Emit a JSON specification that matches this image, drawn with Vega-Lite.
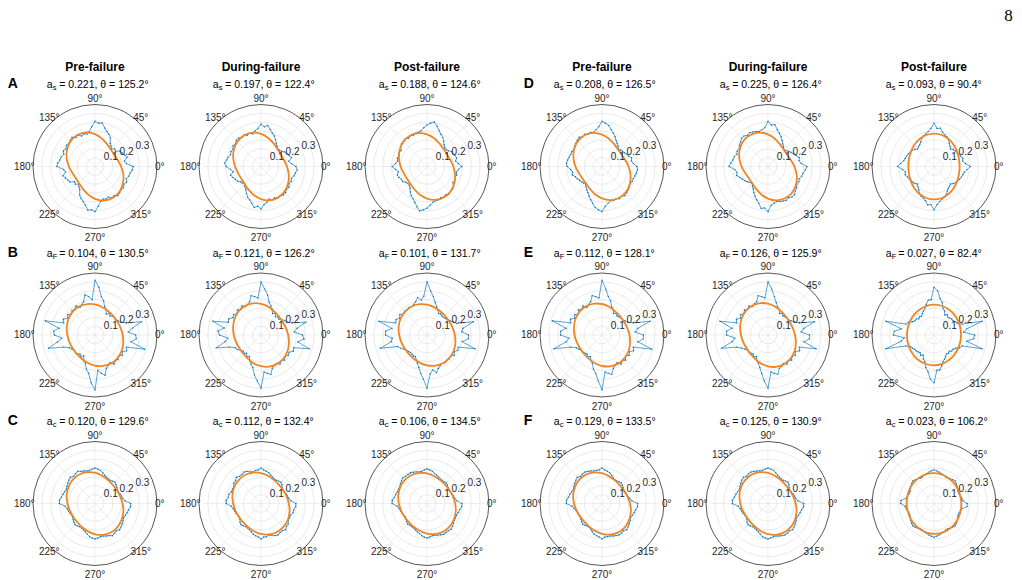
{
"$schema": "https://vega.github.io/schema/vega-lite/v6.json",
"background": "white",
"padding": {"left": 7, "top": 6.5, "right": 0, "bottom": 0},
"config": {"view": {"stroke": null}, "text": {"font": "Liberation Sans", "fontSize": 10, "color": "#262626"}},
"datasets": {
"rings": [{"r":0.05,"k":"g"},{"r":0.1,"k":"g"},{"r":0.15,"k":"g"},{"r":0.2,"k":"g"},{"r":0.25,"k":"g"},{"r":0.3,"k":"g"},{"r":0.35,"k":"e"}],
"spokes": [{"t":0,"rr":[0,0.35]},{"t":45,"rr":[0,0.35]},{"t":90,"rr":[0,0.35]},{"t":135,"rr":[0,0.35]},{"t":180,"rr":[0,0.35]},{"t":225,"rr":[0,0.35]},{"t":270,"rr":[0,0.35]},{"t":315,"rr":[0,0.35]}],
"alab": [{"t":0,"txt":"0°"},{"t":45,"txt":"45°"},{"t":90,"txt":"90°"},{"t":135,"txt":"135°"},{"t":180,"txt":"180°"},{"t":225,"txt":"225°"},{"t":270,"txt":"270°"},{"t":315,"txt":"315°"}],
"rlab": [{"r":0.1,"txt":"0.1"},{"r":0.2,"txt":"0.2"},{"r":0.3,"txt":"0.3"}],
"info": [
{"p":"A1","sub":"s","rest":"= 0.221, θ = 125.2°","ttl":"Pre-failure","let":"A"},
{"p":"A2","sub":"s","rest":"= 0.197, θ = 122.4°","ttl":"During-failure"},
{"p":"A3","sub":"s","rest":"= 0.188, θ = 124.6°","ttl":"Post-failure"},
{"p":"D1","sub":"s","rest":"= 0.208, θ = 126.5°","ttl":"Pre-failure","let":"D"},
{"p":"D2","sub":"s","rest":"= 0.225, θ = 126.4°","ttl":"During-failure"},
{"p":"D3","sub":"s","rest":"= 0.093, θ = 90.4°","ttl":"Post-failure","pg":"8"},
{"p":"B1","sub":"F","rest":"= 0.104, θ = 130.5°","let":"B"},
{"p":"B2","sub":"F","rest":"= 0.121, θ = 126.2°"},
{"p":"B3","sub":"F","rest":"= 0.101, θ = 131.7°"},
{"p":"E1","sub":"F","rest":"= 0.112, θ = 128.1°","let":"E"},
{"p":"E2","sub":"F","rest":"= 0.126, θ = 125.9°"},
{"p":"E3","sub":"F","rest":"= 0.027, θ = 82.4°"},
{"p":"C1","sub":"c","rest":"= 0.120, θ = 129.6°","let":"C"},
{"p":"C2","sub":"c","rest":"= 0.112, θ = 132.4°"},
{"p":"C3","sub":"c","rest":"= 0.106, θ = 134.5°"},
{"p":"F1","sub":"c","rest":"= 0.129, θ = 133.5°","let":"F"},
{"p":"F2","sub":"c","rest":"= 0.125, θ = 130.9°"},
{"p":"F3","sub":"c","rest":"= 0.023, θ = 106.2°"}
],
"cv": [
{"p":"A1","s":"b","t":[0,5,10,15,20,25,30,35,40,45,50,55,60,65,70,75,80,85,90,95,100,105,110,115,120,125,130,135,140,145,150,155,160,165,170,175,180,185,190,195,200,205,210,215,220,225,230,235,240,245,250,255,260,265,270,275,280,285,290,295,300,305,310,315,320,325,330,335,340,345,350,355],"r":[0.23,0.19,0.18,0.2,0.19,0.18,0.175,0.15,0.155,0.14,0.15,0.16,0.185,0.2,0.21,0.225,0.25,0.245,0.255,0.225,0.2,0.19,0.195,0.19,0.205,0.2,0.215,0.21,0.205,0.21,0.2,0.21,0.2,0.21,0.215,0.225,0.23,0.19,0.18,0.2,0.19,0.18,0.175,0.15,0.155,0.14,0.15,0.16,0.185,0.2,0.21,0.225,0.25,0.245,0.255,0.225,0.2,0.19,0.195,0.19,0.205,0.2,0.215,0.21,0.205,0.21,0.2,0.21,0.2,0.21,0.215,0.225]},
{"p":"A1","s":"o","t":[0,15,30,45,60,75,90,105,120,135,150,165,180,195,210,225,240,255,270,285,300,315,330,345],"r":[0.157,0.141,0.133,0.135,0.146,0.163,0.183,0.199,0.207,0.205,0.194,0.177,0.157,0.141,0.133,0.135,0.146,0.163,0.183,0.199,0.207,0.205,0.194,0.177]},
{"p":"A2","s":"b","t":[0,5,10,15,20,25,30,35,40,45,50,55,60,65,70,75,80,85,90,95,100,105,110,115,120,125,130,135,140,145,150,155,160,165,170,175,180,185,190,195,200,205,210,215,220,225,230,235,240,245,250,255,260,265,270,275,280,285,290,295,300,305,310,315,320,325,330,335,340,345,350,355],"r":[0.21,0.185,0.17,0.19,0.18,0.17,0.165,0.15,0.145,0.14,0.15,0.16,0.175,0.19,0.2,0.215,0.235,0.225,0.24,0.215,0.205,0.19,0.2,0.195,0.205,0.2,0.21,0.21,0.2,0.205,0.195,0.2,0.195,0.205,0.21,0.22,0.21,0.185,0.17,0.19,0.18,0.17,0.165,0.15,0.145,0.14,0.15,0.16,0.175,0.19,0.2,0.215,0.235,0.225,0.24,0.215,0.205,0.19,0.2,0.195,0.205,0.2,0.21,0.21,0.2,0.205,0.195,0.2,0.195,0.205,0.21,0.22]},
{"p":"A2","s":"o","t":[0,15,30,45,60,75,90,105,120,135,150,165,180,195,210,225,240,255,270,285,300,315,330,345],"r":[0.156,0.143,0.137,0.14,0.151,0.167,0.184,0.198,0.203,0.2,0.189,0.173,0.156,0.143,0.137,0.14,0.151,0.167,0.184,0.198,0.203,0.2,0.189,0.173]},
{"p":"A3","s":"b","t":[0,5,10,15,20,25,30,35,40,45,50,55,60,65,70,75,80,85,90,95,100,105,110,115,120,125,130,135,140,145,150,155,160,165,170,175,180,185,190,195,200,205,210,215,220,225,230,235,240,245,250,255,260,265,270,275,280,285,290,295,300,305,310,315,320,325,330,335,340,345,350,355],"r":[0.21,0.19,0.175,0.185,0.18,0.17,0.17,0.155,0.15,0.15,0.16,0.175,0.19,0.2,0.215,0.235,0.255,0.245,0.235,0.22,0.205,0.2,0.2,0.195,0.2,0.195,0.205,0.2,0.2,0.195,0.18,0.185,0.18,0.185,0.18,0.19,0.21,0.19,0.175,0.185,0.18,0.17,0.17,0.155,0.15,0.15,0.16,0.175,0.19,0.2,0.215,0.235,0.255,0.245,0.235,0.22,0.205,0.2,0.2,0.195,0.2,0.195,0.205,0.2,0.2,0.195,0.18,0.185,0.18,0.185,0.18,0.19]},
{"p":"A3","s":"o","t":[0,15,30,45,60,75,90,105,120,135,150,165,180,195,210,225,240,255,270,285,300,315,330,345],"r":[0.159,0.145,0.139,0.14,0.15,0.165,0.181,0.195,0.202,0.2,0.19,0.175,0.159,0.145,0.139,0.14,0.15,0.165,0.181,0.195,0.202,0.2,0.19,0.175]},
{"p":"D1","s":"b","t":[0,5,10,15,20,25,30,35,40,45,50,55,60,65,70,75,80,85,90,95,100,105,110,115,120,125,130,135,140,145,150,155,160,165,170,175,180,185,190,195,200,205,210,215,220,225,230,235,240,245,250,255,260,265,270,275,280,285,290,295,300,305,310,315,320,325,330,335,340,345,350,355],"r":[0.21,0.19,0.18,0.185,0.17,0.165,0.155,0.15,0.145,0.14,0.15,0.16,0.17,0.185,0.2,0.215,0.235,0.245,0.255,0.225,0.21,0.2,0.205,0.2,0.21,0.205,0.215,0.21,0.205,0.2,0.195,0.2,0.2,0.205,0.21,0.215,0.21,0.19,0.18,0.185,0.17,0.165,0.155,0.15,0.145,0.14,0.15,0.16,0.17,0.185,0.2,0.215,0.235,0.245,0.255,0.225,0.21,0.2,0.205,0.2,0.21,0.205,0.215,0.21,0.205,0.2,0.195,0.2,0.2,0.205,0.21,0.215]},
{"p":"D1","s":"o","t":[0,15,30,45,60,75,90,105,120,135,150,165,180,195,210,225,240,255,270,285,300,315,330,345],"r":[0.16,0.144,0.136,0.136,0.146,0.162,0.18,0.196,0.205,0.204,0.194,0.178,0.16,0.144,0.136,0.136,0.146,0.162,0.18,0.196,0.205,0.204,0.194,0.178]},
{"p":"D2","s":"b","t":[0,5,10,15,20,25,30,35,40,45,50,55,60,65,70,75,80,85,90,95,100,105,110,115,120,125,130,135,140,145,150,155,160,165,170,175,180,185,190,195,200,205,210,215,220,225,230,235,240,245,250,255,260,265,270,275,280,285,290,295,300,305,310,315,320,325,330,335,340,345,350,355],"r":[0.235,0.2,0.19,0.195,0.18,0.17,0.16,0.15,0.14,0.135,0.145,0.155,0.17,0.185,0.2,0.215,0.24,0.235,0.255,0.22,0.21,0.205,0.21,0.215,0.22,0.215,0.225,0.225,0.215,0.21,0.2,0.205,0.2,0.21,0.215,0.225,0.235,0.2,0.19,0.195,0.18,0.17,0.16,0.15,0.14,0.135,0.145,0.155,0.17,0.185,0.2,0.215,0.24,0.235,0.255,0.22,0.21,0.205,0.21,0.215,0.22,0.215,0.225,0.225,0.215,0.21,0.2,0.205,0.2,0.21,0.215,0.225]},
{"p":"D2","s":"o","t":[0,15,30,45,60,75,90,105,120,135,150,165,180,195,210,225,240,255,270,285,300,315,330,345],"r":[0.159,0.142,0.133,0.134,0.144,0.162,0.181,0.198,0.207,0.207,0.196,0.179,0.159,0.142,0.133,0.134,0.144,0.162,0.181,0.198,0.207,0.207,0.196,0.179]},
{"p":"D3","s":"b","t":[0,5,10,15,20,25,30,35,40,45,50,55,60,65,70,75,80,85,90,95,100,105,110,115,120,125,130,135,140,145,150,155,160,165,170,175,180,185,190,195,200,205,210,215,220,225,230,235,240,245,250,255,260,265,270,275,280,285,290,295,300,305,310,315,320,325,330,335,340,345,350,355],"r":[0.22,0.19,0.175,0.18,0.17,0.165,0.16,0.155,0.15,0.14,0.15,0.16,0.175,0.185,0.19,0.2,0.22,0.215,0.245,0.215,0.2,0.19,0.185,0.175,0.16,0.15,0.145,0.14,0.15,0.16,0.165,0.17,0.175,0.18,0.185,0.2,0.22,0.19,0.175,0.18,0.17,0.165,0.16,0.155,0.15,0.14,0.15,0.16,0.175,0.185,0.19,0.2,0.22,0.215,0.245,0.215,0.2,0.19,0.185,0.175,0.16,0.15,0.145,0.14,0.15,0.16,0.165,0.17,0.175,0.18,0.185,0.2]},
{"p":"D3","s":"o","t":[0,15,30,45,60,75,90,105,120,135,150,165,180,195,210,225,240,255,270,285,300,315,330,345],"r":[0.154,0.156,0.162,0.17,0.178,0.184,0.186,0.184,0.178,0.17,0.162,0.156,0.154,0.156,0.162,0.17,0.178,0.184,0.186,0.184,0.178,0.17,0.162,0.156]},
{"p":"B1","s":"b","t":[0,5,10,15,20,25,30,35,40,45,50,55,60,65,70,75,80,85,90,95,100,105,110,115,120,125,130,135,140,145,150,155,160,165,170,175,180,185,190,195,200,205,210,215,220,225,230,235,240,245,250,255,260,265,270,275,280,285,290,295,300,305,310,315,320,325,330,335,340,345,350,355],"r":[0.245,0.2,0.23,0.29,0.2,0.17,0.16,0.15,0.155,0.15,0.14,0.15,0.135,0.16,0.17,0.2,0.22,0.27,0.31,0.2,0.22,0.235,0.2,0.19,0.18,0.2,0.19,0.195,0.185,0.2,0.19,0.21,0.2,0.31,0.22,0.25,0.245,0.2,0.23,0.29,0.2,0.17,0.16,0.15,0.155,0.15,0.14,0.15,0.135,0.16,0.17,0.2,0.22,0.27,0.31,0.2,0.22,0.235,0.2,0.19,0.18,0.2,0.19,0.195,0.185,0.2,0.19,0.21,0.2,0.31,0.22,0.25]},
{"p":"B1","s":"o","t":[0,15,30,45,60,75,90,105,120,135,150,165,180,195,210,225,240,255,270,285,300,315,330,345],"r":[0.167,0.159,0.154,0.153,0.156,0.164,0.173,0.181,0.187,0.188,0.184,0.176,0.167,0.159,0.154,0.153,0.156,0.164,0.173,0.181,0.187,0.188,0.184,0.176]},
{"p":"B2","s":"b","t":[0,5,10,15,20,25,30,35,40,45,50,55,60,65,70,75,80,85,90,95,100,105,110,115,120,125,130,135,140,145,150,155,160,165,170,175,180,185,190,195,200,205,210,215,220,225,230,235,240,245,250,255,260,265,270,275,280,285,290,295,300,305,310,315,320,325,330,335,340,345,350,355],"r":[0.25,0.2,0.22,0.28,0.2,0.17,0.165,0.15,0.14,0.145,0.135,0.15,0.14,0.16,0.175,0.19,0.23,0.26,0.3,0.21,0.22,0.23,0.2,0.19,0.185,0.2,0.19,0.2,0.19,0.2,0.195,0.215,0.21,0.3,0.225,0.26,0.25,0.2,0.22,0.28,0.2,0.17,0.165,0.15,0.14,0.145,0.135,0.15,0.14,0.16,0.175,0.19,0.23,0.26,0.3,0.21,0.22,0.23,0.2,0.19,0.185,0.2,0.19,0.2,0.19,0.2,0.195,0.215,0.21,0.3,0.225,0.26]},
{"p":"B2","s":"o","t":[0,15,30,45,60,75,90,105,120,135,150,165,180,195,210,225,240,255,270,285,300,315,330,345],"r":[0.164,0.155,0.15,0.15,0.156,0.166,0.176,0.185,0.19,0.19,0.184,0.174,0.164,0.155,0.15,0.15,0.156,0.166,0.176,0.185,0.19,0.19,0.184,0.174]},
{"p":"B3","s":"b","t":[0,5,10,15,20,25,30,35,40,45,50,55,60,65,70,75,80,85,90,95,100,105,110,115,120,125,130,135,140,145,150,155,160,165,170,175,180,185,190,195,200,205,210,215,220,225,230,235,240,245,250,255,260,265,270,275,280,285,290,295,300,305,310,315,320,325,330,335,340,345,350,355],"r":[0.25,0.21,0.22,0.29,0.19,0.175,0.16,0.15,0.145,0.14,0.14,0.145,0.14,0.155,0.17,0.19,0.22,0.25,0.3,0.22,0.2,0.22,0.2,0.19,0.185,0.19,0.185,0.19,0.185,0.2,0.19,0.205,0.2,0.3,0.215,0.25,0.25,0.21,0.22,0.29,0.19,0.175,0.16,0.15,0.145,0.14,0.14,0.145,0.14,0.155,0.17,0.19,0.22,0.25,0.3,0.22,0.2,0.22,0.2,0.19,0.185,0.19,0.185,0.19,0.185,0.2,0.19,0.205,0.2,0.3,0.215,0.25]},
{"p":"B3","s":"o","t":[0,15,30,45,60,75,90,105,120,135,150,165,180,195,210,225,240,255,270,285,300,315,330,345],"r":[0.168,0.16,0.154,0.153,0.156,0.163,0.172,0.18,0.186,0.187,0.184,0.177,0.168,0.16,0.154,0.153,0.156,0.163,0.172,0.18,0.186,0.187,0.184,0.177]},
{"p":"E1","s":"b","t":[0,5,10,15,20,25,30,35,40,45,50,55,60,65,70,75,80,85,90,95,100,105,110,115,120,125,130,135,140,145,150,155,160,165,170,175,180,185,190,195,200,205,210,215,220,225,230,235,240,245,250,255,260,265,270,275,280,285,290,295,300,305,310,315,320,325,330,335,340,345,350,355],"r":[0.25,0.2,0.22,0.3,0.2,0.17,0.16,0.15,0.15,0.145,0.14,0.15,0.14,0.16,0.17,0.2,0.22,0.26,0.31,0.21,0.22,0.23,0.2,0.19,0.18,0.2,0.19,0.2,0.185,0.2,0.19,0.21,0.2,0.31,0.22,0.25,0.25,0.2,0.22,0.3,0.2,0.17,0.16,0.15,0.15,0.145,0.14,0.15,0.14,0.16,0.17,0.2,0.22,0.26,0.31,0.21,0.22,0.23,0.2,0.19,0.18,0.2,0.19,0.2,0.185,0.2,0.19,0.21,0.2,0.31,0.22,0.25]},
{"p":"E1","s":"o","t":[0,15,30,45,60,75,90,105,120,135,150,165,180,195,210,225,240,255,270,285,300,315,330,345],"r":[0.166,0.157,0.152,0.152,0.156,0.165,0.175,0.183,0.188,0.189,0.184,0.175,0.166,0.157,0.152,0.152,0.156,0.165,0.175,0.183,0.188,0.189,0.184,0.175]},
{"p":"E2","s":"b","t":[0,5,10,15,20,25,30,35,40,45,50,55,60,65,70,75,80,85,90,95,100,105,110,115,120,125,130,135,140,145,150,155,160,165,170,175,180,185,190,195,200,205,210,215,220,225,230,235,240,245,250,255,260,265,270,275,280,285,290,295,300,305,310,315,320,325,330,335,340,345,350,355],"r":[0.25,0.2,0.22,0.29,0.2,0.175,0.16,0.15,0.15,0.145,0.14,0.15,0.14,0.16,0.17,0.19,0.22,0.26,0.3,0.21,0.22,0.23,0.2,0.195,0.185,0.2,0.19,0.2,0.19,0.2,0.19,0.21,0.2,0.3,0.22,0.25,0.25,0.2,0.22,0.29,0.2,0.175,0.16,0.15,0.15,0.145,0.14,0.15,0.14,0.16,0.17,0.19,0.22,0.26,0.3,0.21,0.22,0.23,0.2,0.195,0.185,0.2,0.19,0.2,0.19,0.2,0.19,0.21,0.2,0.3,0.22,0.25]},
{"p":"E2","s":"o","t":[0,15,30,45,60,75,90,105,120,135,150,165,180,195,210,225,240,255,270,285,300,315,330,345],"r":[0.163,0.154,0.149,0.15,0.156,0.166,0.177,0.186,0.191,0.19,0.184,0.174,0.163,0.154,0.149,0.15,0.156,0.166,0.177,0.186,0.191,0.19,0.184,0.174]},
{"p":"E3","s":"b","t":[0,5,10,15,20,25,30,35,40,45,50,55,60,65,70,75,80,85,90,95,100,105,110,115,120,125,130,135,140,145,150,155,160,165,170,175,180,185,190,195,200,205,210,215,220,225,230,235,240,245,250,255,260,265,270,275,280,285,290,295,300,305,310,315,320,325,330,335,340,345,350,355],"r":[0.245,0.18,0.2,0.3,0.18,0.155,0.15,0.14,0.14,0.135,0.13,0.14,0.13,0.15,0.16,0.19,0.21,0.25,0.27,0.2,0.2,0.18,0.16,0.15,0.14,0.13,0.135,0.13,0.14,0.14,0.15,0.17,0.18,0.3,0.2,0.24,0.245,0.18,0.2,0.3,0.18,0.155,0.15,0.14,0.14,0.135,0.13,0.14,0.13,0.15,0.16,0.19,0.21,0.25,0.27,0.2,0.2,0.18,0.16,0.15,0.14,0.13,0.135,0.13,0.14,0.14,0.15,0.17,0.18,0.3,0.2,0.24]},
{"p":"E3","s":"o","t":[0,15,30,45,60,75,90,105,120,135,150,165,180,195,210,225,240,255,270,285,300,315,330,345],"r":[0.163,0.164,0.166,0.168,0.17,0.171,0.171,0.17,0.168,0.166,0.164,0.163,0.163,0.164,0.166,0.168,0.17,0.171,0.171,0.17,0.168,0.166,0.164,0.163]},
{"p":"C1","s":"b","t":[0,5,10,15,20,25,30,35,40,45,50,55,60,65,70,75,80,85,90,95,100,105,110,115,120,125,130,135,140,145,150,155,160,165,170,175,180,185,190,195,200,205,210,215,220,225,230,235,240,245,250,255,260,265,270,275,280,285,290,295,300,305,310,315,320,325,330,335,340,345,350,355],"r":[0.215,0.18,0.17,0.165,0.16,0.155,0.155,0.16,0.165,0.17,0.165,0.16,0.16,0.165,0.17,0.18,0.19,0.195,0.2,0.195,0.19,0.19,0.195,0.2,0.21,0.205,0.2,0.21,0.205,0.2,0.195,0.19,0.195,0.2,0.205,0.215,0.215,0.18,0.17,0.165,0.16,0.155,0.155,0.16,0.165,0.17,0.165,0.16,0.16,0.165,0.17,0.18,0.19,0.195,0.2,0.195,0.19,0.19,0.195,0.2,0.21,0.205,0.2,0.21,0.205,0.2,0.195,0.19,0.195,0.2,0.205,0.215]},
{"p":"C1","s":"o","t":[0,15,30,45,60,75,90,105,120,135,150,165,180,195,210,225,240,255,270,285,300,315,330,345],"r":[0.166,0.157,0.151,0.15,0.155,0.163,0.174,0.183,0.189,0.19,0.185,0.177,0.166,0.157,0.151,0.15,0.155,0.163,0.174,0.183,0.189,0.19,0.185,0.177]},
{"p":"C2","s":"b","t":[0,5,10,15,20,25,30,35,40,45,50,55,60,65,70,75,80,85,90,95,100,105,110,115,120,125,130,135,140,145,150,155,160,165,170,175,180,185,190,195,200,205,210,215,220,225,230,235,240,245,250,255,260,265,270,275,280,285,290,295,300,305,310,315,320,325,330,335,340,345,350,355],"r":[0.21,0.18,0.17,0.165,0.16,0.155,0.15,0.155,0.165,0.17,0.165,0.16,0.16,0.165,0.17,0.18,0.185,0.19,0.2,0.19,0.19,0.185,0.19,0.2,0.205,0.2,0.2,0.21,0.2,0.2,0.19,0.19,0.19,0.2,0.2,0.21,0.21,0.18,0.17,0.165,0.16,0.155,0.15,0.155,0.165,0.17,0.165,0.16,0.16,0.165,0.17,0.18,0.185,0.19,0.2,0.19,0.19,0.185,0.19,0.2,0.205,0.2,0.2,0.21,0.2,0.2,0.19,0.19,0.19,0.2,0.2,0.21]},
{"p":"C2","s":"o","t":[0,15,30,45,60,75,90,105,120,135,150,165,180,195,210,225,240,255,270,285,300,315,330,345],"r":[0.168,0.159,0.153,0.151,0.154,0.162,0.172,0.181,0.187,0.189,0.186,0.178,0.168,0.159,0.153,0.151,0.154,0.162,0.172,0.181,0.187,0.189,0.186,0.178]},
{"p":"C3","s":"b","t":[0,5,10,15,20,25,30,35,40,45,50,55,60,65,70,75,80,85,90,95,100,105,110,115,120,125,130,135,140,145,150,155,160,165,170,175,180,185,190,195,200,205,210,215,220,225,230,235,240,245,250,255,260,265,270,275,280,285,290,295,300,305,310,315,320,325,330,335,340,345,350,355],"r":[0.21,0.18,0.17,0.165,0.16,0.155,0.15,0.155,0.16,0.165,0.16,0.16,0.16,0.165,0.17,0.175,0.185,0.19,0.195,0.19,0.185,0.185,0.19,0.195,0.2,0.2,0.2,0.205,0.2,0.195,0.19,0.19,0.19,0.195,0.2,0.21,0.21,0.18,0.17,0.165,0.16,0.155,0.15,0.155,0.16,0.165,0.16,0.16,0.16,0.165,0.17,0.175,0.185,0.19,0.195,0.19,0.185,0.185,0.19,0.195,0.2,0.2,0.2,0.205,0.2,0.195,0.19,0.19,0.19,0.195,0.2,0.21]},
{"p":"C3","s":"o","t":[0,15,30,45,60,75,90,105,120,135,150,165,180,195,210,225,240,255,270,285,300,315,330,345],"r":[0.17,0.161,0.154,0.152,0.155,0.161,0.17,0.179,0.186,0.188,0.186,0.179,0.17,0.161,0.154,0.152,0.155,0.161,0.17,0.179,0.186,0.188,0.186,0.179]},
{"p":"F1","s":"b","t":[0,5,10,15,20,25,30,35,40,45,50,55,60,65,70,75,80,85,90,95,100,105,110,115,120,125,130,135,140,145,150,155,160,165,170,175,180,185,190,195,200,205,210,215,220,225,230,235,240,245,250,255,260,265,270,275,280,285,290,295,300,305,310,315,320,325,330,335,340,345,350,355],"r":[0.215,0.18,0.17,0.16,0.155,0.15,0.15,0.155,0.16,0.165,0.16,0.155,0.155,0.16,0.17,0.18,0.185,0.19,0.2,0.19,0.19,0.19,0.195,0.2,0.205,0.205,0.2,0.21,0.205,0.2,0.195,0.19,0.195,0.2,0.205,0.215,0.215,0.18,0.17,0.16,0.155,0.15,0.15,0.155,0.16,0.165,0.16,0.155,0.155,0.16,0.17,0.18,0.185,0.19,0.2,0.19,0.19,0.19,0.195,0.2,0.205,0.205,0.2,0.21,0.205,0.2,0.195,0.19,0.195,0.2,0.205,0.215]},
{"p":"F1","s":"o","t":[0,15,30,45,60,75,90,105,120,135,150,165,180,195,210,225,240,255,270,285,300,315,330,345],"r":[0.169,0.158,0.151,0.148,0.152,0.16,0.171,0.182,0.19,0.192,0.188,0.18,0.169,0.158,0.151,0.148,0.152,0.16,0.171,0.182,0.19,0.192,0.188,0.18]},
{"p":"F2","s":"b","t":[0,5,10,15,20,25,30,35,40,45,50,55,60,65,70,75,80,85,90,95,100,105,110,115,120,125,130,135,140,145,150,155,160,165,170,175,180,185,190,195,200,205,210,215,220,225,230,235,240,245,250,255,260,265,270,275,280,285,290,295,300,305,310,315,320,325,330,335,340,345,350,355],"r":[0.215,0.18,0.17,0.165,0.16,0.155,0.15,0.155,0.165,0.17,0.165,0.16,0.16,0.165,0.17,0.18,0.19,0.195,0.2,0.195,0.19,0.19,0.195,0.2,0.205,0.205,0.2,0.21,0.205,0.2,0.195,0.19,0.195,0.2,0.205,0.215,0.215,0.18,0.17,0.165,0.16,0.155,0.15,0.155,0.165,0.17,0.165,0.16,0.16,0.165,0.17,0.18,0.19,0.195,0.2,0.195,0.19,0.19,0.195,0.2,0.205,0.205,0.2,0.21,0.205,0.2,0.195,0.19,0.195,0.2,0.205,0.215]},
{"p":"F2","s":"o","t":[0,15,30,45,60,75,90,105,120,135,150,165,180,195,210,225,240,255,270,285,300,315,330,345],"r":[0.167,0.157,0.15,0.149,0.153,0.162,0.173,0.183,0.19,0.191,0.187,0.178,0.167,0.157,0.15,0.149,0.153,0.162,0.173,0.183,0.19,0.191,0.187,0.178]},
{"p":"F3","s":"b","t":[0,5,10,15,20,25,30,35,40,45,50,55,60,65,70,75,80,85,90,95,100,105,110,115,120,125,130,135,140,145,150,155,160,165,170,175,180,185,190,195,200,205,210,215,220,225,230,235,240,245,250,255,260,265,270,275,280,285,290,295,300,305,310,315,320,325,330,335,340,345,350,355],"r":[0.2,0.175,0.17,0.165,0.16,0.16,0.165,0.17,0.175,0.18,0.175,0.17,0.165,0.165,0.17,0.175,0.18,0.185,0.19,0.185,0.18,0.175,0.17,0.165,0.165,0.17,0.175,0.18,0.175,0.17,0.165,0.16,0.16,0.165,0.17,0.2,0.2,0.175,0.17,0.165,0.16,0.16,0.165,0.17,0.175,0.18,0.175,0.17,0.165,0.165,0.17,0.175,0.18,0.185,0.19,0.185,0.18,0.175,0.17,0.165,0.165,0.17,0.175,0.18,0.175,0.17,0.165,0.16,0.16,0.165,0.17,0.2]},
{"p":"F3","s":"o","t":[0,15,30,45,60,75,90,105,120,135,150,165,180,195,210,225,240,255,270,285,300,315,330,345],"r":[0.165,0.164,0.165,0.166,0.168,0.17,0.171,0.172,0.171,0.17,0.168,0.166,0.165,0.164,0.165,0.166,0.168,0.17,0.171,0.172,0.171,0.17,0.168,0.166]}
]
},
"columns": 7,
"align": "each",
"bounds": "flush",
"spacing": {"row": 44.5, "column": 0},
"concat": [
{"width":166,"height":124,"layer":[
{"data":{"name":"spokes"},"transform":[{"flatten":["rr"]},{"calculate":"datum.rr*cos(datum.t*PI/180)","as":"x"},{"calculate":"datum.rr*sin(datum.t*PI/180)","as":"y"}],"mark":{"type":"line","color":"#e2e2e2","strokeWidth":0.6},"encoding":{"x":{"field":"x","type":"quantitative","scale":{"domain":[-0.46855,0.46855]},"axis":null},"y":{"field":"y","type":"quantitative","scale":{"domain":[-0.35,0.35]},"axis":null},"detail":{"field":"t","type":"nominal"},"order":{"field":"rr","type":"quantitative"}}},
{"data":{"name":"rings"},"transform":[{"calculate":"0","as":"x"},{"calculate":"0","as":"y"}],"mark":{"type":"point","shape":"circle","filled":false,"opacity":1,"strokeWidth":0.75},"encoding":{"x":{"field":"x","type":"quantitative","axis":null},"y":{"field":"y","type":"quantitative","axis":null},"size":{"field":"r","type":"quantitative","scale":{"type":"pow","exponent":2,"domain":[0,0.35],"range":[0,15376]},"legend":null},"color":{"field":"k","type":"nominal","scale":{"domain":["g","e"],"range":["#e2e2e2","#1f1f1f"]},"legend":null}}},
{"data":{"name":"cv"},"transform":[{"filter":"datum.p=='A1'&&datum.s=='b'"},{"flatten":["t","r"]},{"calculate":"datum.r*cos(datum.t*PI/180)","as":"x"},{"calculate":"datum.r*sin(datum.t*PI/180)","as":"y"}],"mark":{"type":"line","interpolate":"linear-closed","color":"#0072BD","strokeWidth":0.65,"point":{"filled":true,"size":2,"color":"#0072BD"}},"encoding":{"x":{"field":"x","type":"quantitative","axis":null},"y":{"field":"y","type":"quantitative","axis":null},"order":{"field":"t","type":"quantitative"}}},
{"data":{"name":"cv"},"transform":[{"filter":"datum.p=='A1'&&datum.s=='o'"},{"flatten":["t","r"]},{"calculate":"datum.r*cos(datum.t*PI/180)","as":"x"},{"calculate":"datum.r*sin(datum.t*PI/180)","as":"y"}],"mark":{"type":"line","interpolate":"cardinal-closed","color":"#F28522","strokeWidth":1.8},"encoding":{"x":{"field":"x","type":"quantitative","axis":null},"y":{"field":"y","type":"quantitative","axis":null},"order":{"field":"t","type":"quantitative"}}},
{"data":{"name":"alab"},"transform":[{"filter":"datum.t!=180"},{"calculate":"datum.t==90?0.382:(datum.t==270?0.405:0.39)","as":"rl"},{"calculate":"datum.rl*cos(datum.t*PI/180)","as":"x"},{"calculate":"datum.rl*sin(datum.t*PI/180)","as":"y"}],"mark":{"type":"text","baseline":"middle"},"encoding":{"x":{"field":"x","type":"quantitative","axis":null},"y":{"field":"y","type":"quantitative","axis":null},"text":{"field":"txt"}}},
{"data":{"name":"alab"},"transform":[{"filter":"datum.t==180"},{"calculate":"0.364*cos(datum.t*PI/180)","as":"x"},{"calculate":"0.364*sin(datum.t*PI/180)","as":"y"}],"mark":{"type":"text","align":"right","baseline":"middle"},"encoding":{"x":{"field":"x","type":"quantitative","axis":null},"y":{"field":"y","type":"quantitative","axis":null},"text":{"field":"txt"}}},
{"data":{"name":"rlab"},"transform":[{"calculate":"datum.r*cos(18*PI/180)","as":"x"},{"calculate":"datum.r*sin(18*PI/180)","as":"y"}],"mark":{"type":"text","baseline":"middle","dy":-4},"encoding":{"x":{"field":"x","type":"quantitative","axis":null},"y":{"field":"y","type":"quantitative","axis":null},"text":{"field":"txt"}}},
{"data":{"name":"info"},"transform":[{"filter":"datum.p=='A1'"}],"layer":[
{"mark":{"type":"text","text":"a","align":"right","baseline":"middle","fontSize":10.5,"color":"#000"},"encoding":{"x":{"datum":-0.2557,"type":"quantitative","axis":null},"y":{"datum":0.4573,"type":"quantitative","axis":null}}},
{"mark":{"type":"text","align":"left","baseline":"middle","fontSize":7.5,"dy":3,"color":"#000"},"encoding":{"x":{"datum":-0.254,"type":"quantitative","axis":null},"y":{"datum":0.4573,"type":"quantitative","axis":null},"text":{"field":"sub"}}},
{"mark":{"type":"text","align":"left","baseline":"middle","fontSize":10.5,"color":"#000"},"encoding":{"x":{"datum":-0.2159,"type":"quantitative","axis":null},"y":{"datum":0.4573,"type":"quantitative","axis":null},"text":{"field":"rest"}}},
{"mark":{"type":"text","baseline":"middle","fontSize":12,"fontWeight":"bold","color":"#000"},"encoding":{"x":{"datum":0,"type":"quantitative","axis":null},"y":{"datum":0.559,"type":"quantitative","axis":null},"text":{"field":"ttl"}}},
{"mark":{"type":"text","align":"left","baseline":"middle","fontSize":14,"fontWeight":"bold","color":"#000"},"encoding":{"x":{"datum":-0.525,"type":"quantitative","axis":null},"y":{"datum":0.4657,"type":"quantitative","axis":null},"text":{"field":"let"}}}
]}
]},
{"width":166,"height":124,"layer":[
{"data":{"name":"spokes"},"transform":[{"flatten":["rr"]},{"calculate":"datum.rr*cos(datum.t*PI/180)","as":"x"},{"calculate":"datum.rr*sin(datum.t*PI/180)","as":"y"}],"mark":{"type":"line","color":"#e2e2e2","strokeWidth":0.6},"encoding":{"x":{"field":"x","type":"quantitative","scale":{"domain":[-0.46855,0.46855]},"axis":null},"y":{"field":"y","type":"quantitative","scale":{"domain":[-0.35,0.35]},"axis":null},"detail":{"field":"t","type":"nominal"},"order":{"field":"rr","type":"quantitative"}}},
{"data":{"name":"rings"},"transform":[{"calculate":"0","as":"x"},{"calculate":"0","as":"y"}],"mark":{"type":"point","shape":"circle","filled":false,"opacity":1,"strokeWidth":0.75},"encoding":{"x":{"field":"x","type":"quantitative","axis":null},"y":{"field":"y","type":"quantitative","axis":null},"size":{"field":"r","type":"quantitative","scale":{"type":"pow","exponent":2,"domain":[0,0.35],"range":[0,15376]},"legend":null},"color":{"field":"k","type":"nominal","scale":{"domain":["g","e"],"range":["#e2e2e2","#1f1f1f"]},"legend":null}}},
{"data":{"name":"cv"},"transform":[{"filter":"datum.p=='A2'&&datum.s=='b'"},{"flatten":["t","r"]},{"calculate":"datum.r*cos(datum.t*PI/180)","as":"x"},{"calculate":"datum.r*sin(datum.t*PI/180)","as":"y"}],"mark":{"type":"line","interpolate":"linear-closed","color":"#0072BD","strokeWidth":0.65,"point":{"filled":true,"size":2,"color":"#0072BD"}},"encoding":{"x":{"field":"x","type":"quantitative","axis":null},"y":{"field":"y","type":"quantitative","axis":null},"order":{"field":"t","type":"quantitative"}}},
{"data":{"name":"cv"},"transform":[{"filter":"datum.p=='A2'&&datum.s=='o'"},{"flatten":["t","r"]},{"calculate":"datum.r*cos(datum.t*PI/180)","as":"x"},{"calculate":"datum.r*sin(datum.t*PI/180)","as":"y"}],"mark":{"type":"line","interpolate":"cardinal-closed","color":"#F28522","strokeWidth":1.8},"encoding":{"x":{"field":"x","type":"quantitative","axis":null},"y":{"field":"y","type":"quantitative","axis":null},"order":{"field":"t","type":"quantitative"}}},
{"data":{"name":"alab"},"transform":[{"filter":"datum.t!=180"},{"calculate":"datum.t==90?0.382:(datum.t==270?0.405:0.39)","as":"rl"},{"calculate":"datum.rl*cos(datum.t*PI/180)","as":"x"},{"calculate":"datum.rl*sin(datum.t*PI/180)","as":"y"}],"mark":{"type":"text","baseline":"middle"},"encoding":{"x":{"field":"x","type":"quantitative","axis":null},"y":{"field":"y","type":"quantitative","axis":null},"text":{"field":"txt"}}},
{"data":{"name":"alab"},"transform":[{"filter":"datum.t==180"},{"calculate":"0.364*cos(datum.t*PI/180)","as":"x"},{"calculate":"0.364*sin(datum.t*PI/180)","as":"y"}],"mark":{"type":"text","align":"right","baseline":"middle"},"encoding":{"x":{"field":"x","type":"quantitative","axis":null},"y":{"field":"y","type":"quantitative","axis":null},"text":{"field":"txt"}}},
{"data":{"name":"rlab"},"transform":[{"calculate":"datum.r*cos(18*PI/180)","as":"x"},{"calculate":"datum.r*sin(18*PI/180)","as":"y"}],"mark":{"type":"text","baseline":"middle","dy":-4},"encoding":{"x":{"field":"x","type":"quantitative","axis":null},"y":{"field":"y","type":"quantitative","axis":null},"text":{"field":"txt"}}},
{"data":{"name":"info"},"transform":[{"filter":"datum.p=='A2'"}],"layer":[
{"mark":{"type":"text","text":"a","align":"right","baseline":"middle","fontSize":10.5,"color":"#000"},"encoding":{"x":{"datum":-0.2557,"type":"quantitative","axis":null},"y":{"datum":0.4573,"type":"quantitative","axis":null}}},
{"mark":{"type":"text","align":"left","baseline":"middle","fontSize":7.5,"dy":3,"color":"#000"},"encoding":{"x":{"datum":-0.254,"type":"quantitative","axis":null},"y":{"datum":0.4573,"type":"quantitative","axis":null},"text":{"field":"sub"}}},
{"mark":{"type":"text","align":"left","baseline":"middle","fontSize":10.5,"color":"#000"},"encoding":{"x":{"datum":-0.2159,"type":"quantitative","axis":null},"y":{"datum":0.4573,"type":"quantitative","axis":null},"text":{"field":"rest"}}},
{"mark":{"type":"text","baseline":"middle","fontSize":12,"fontWeight":"bold","color":"#000"},"encoding":{"x":{"datum":0,"type":"quantitative","axis":null},"y":{"datum":0.559,"type":"quantitative","axis":null},"text":{"field":"ttl"}}}
]}
]},
{"width":166,"height":124,"layer":[
{"data":{"name":"spokes"},"transform":[{"flatten":["rr"]},{"calculate":"datum.rr*cos(datum.t*PI/180)","as":"x"},{"calculate":"datum.rr*sin(datum.t*PI/180)","as":"y"}],"mark":{"type":"line","color":"#e2e2e2","strokeWidth":0.6},"encoding":{"x":{"field":"x","type":"quantitative","scale":{"domain":[-0.46855,0.46855]},"axis":null},"y":{"field":"y","type":"quantitative","scale":{"domain":[-0.35,0.35]},"axis":null},"detail":{"field":"t","type":"nominal"},"order":{"field":"rr","type":"quantitative"}}},
{"data":{"name":"rings"},"transform":[{"calculate":"0","as":"x"},{"calculate":"0","as":"y"}],"mark":{"type":"point","shape":"circle","filled":false,"opacity":1,"strokeWidth":0.75},"encoding":{"x":{"field":"x","type":"quantitative","axis":null},"y":{"field":"y","type":"quantitative","axis":null},"size":{"field":"r","type":"quantitative","scale":{"type":"pow","exponent":2,"domain":[0,0.35],"range":[0,15376]},"legend":null},"color":{"field":"k","type":"nominal","scale":{"domain":["g","e"],"range":["#e2e2e2","#1f1f1f"]},"legend":null}}},
{"data":{"name":"cv"},"transform":[{"filter":"datum.p=='A3'&&datum.s=='b'"},{"flatten":["t","r"]},{"calculate":"datum.r*cos(datum.t*PI/180)","as":"x"},{"calculate":"datum.r*sin(datum.t*PI/180)","as":"y"}],"mark":{"type":"line","interpolate":"linear-closed","color":"#0072BD","strokeWidth":0.65,"point":{"filled":true,"size":2,"color":"#0072BD"}},"encoding":{"x":{"field":"x","type":"quantitative","axis":null},"y":{"field":"y","type":"quantitative","axis":null},"order":{"field":"t","type":"quantitative"}}},
{"data":{"name":"cv"},"transform":[{"filter":"datum.p=='A3'&&datum.s=='o'"},{"flatten":["t","r"]},{"calculate":"datum.r*cos(datum.t*PI/180)","as":"x"},{"calculate":"datum.r*sin(datum.t*PI/180)","as":"y"}],"mark":{"type":"line","interpolate":"cardinal-closed","color":"#F28522","strokeWidth":1.8},"encoding":{"x":{"field":"x","type":"quantitative","axis":null},"y":{"field":"y","type":"quantitative","axis":null},"order":{"field":"t","type":"quantitative"}}},
{"data":{"name":"alab"},"transform":[{"filter":"datum.t!=180"},{"calculate":"datum.t==90?0.382:(datum.t==270?0.405:0.39)","as":"rl"},{"calculate":"datum.rl*cos(datum.t*PI/180)","as":"x"},{"calculate":"datum.rl*sin(datum.t*PI/180)","as":"y"}],"mark":{"type":"text","baseline":"middle"},"encoding":{"x":{"field":"x","type":"quantitative","axis":null},"y":{"field":"y","type":"quantitative","axis":null},"text":{"field":"txt"}}},
{"data":{"name":"alab"},"transform":[{"filter":"datum.t==180"},{"calculate":"0.364*cos(datum.t*PI/180)","as":"x"},{"calculate":"0.364*sin(datum.t*PI/180)","as":"y"}],"mark":{"type":"text","align":"right","baseline":"middle"},"encoding":{"x":{"field":"x","type":"quantitative","axis":null},"y":{"field":"y","type":"quantitative","axis":null},"text":{"field":"txt"}}},
{"data":{"name":"rlab"},"transform":[{"calculate":"datum.r*cos(18*PI/180)","as":"x"},{"calculate":"datum.r*sin(18*PI/180)","as":"y"}],"mark":{"type":"text","baseline":"middle","dy":-4},"encoding":{"x":{"field":"x","type":"quantitative","axis":null},"y":{"field":"y","type":"quantitative","axis":null},"text":{"field":"txt"}}},
{"data":{"name":"info"},"transform":[{"filter":"datum.p=='A3'"}],"layer":[
{"mark":{"type":"text","text":"a","align":"right","baseline":"middle","fontSize":10.5,"color":"#000"},"encoding":{"x":{"datum":-0.2557,"type":"quantitative","axis":null},"y":{"datum":0.4573,"type":"quantitative","axis":null}}},
{"mark":{"type":"text","align":"left","baseline":"middle","fontSize":7.5,"dy":3,"color":"#000"},"encoding":{"x":{"datum":-0.254,"type":"quantitative","axis":null},"y":{"datum":0.4573,"type":"quantitative","axis":null},"text":{"field":"sub"}}},
{"mark":{"type":"text","align":"left","baseline":"middle","fontSize":10.5,"color":"#000"},"encoding":{"x":{"datum":-0.2159,"type":"quantitative","axis":null},"y":{"datum":0.4573,"type":"quantitative","axis":null},"text":{"field":"rest"}}},
{"mark":{"type":"text","baseline":"middle","fontSize":12,"fontWeight":"bold","color":"#000"},"encoding":{"x":{"datum":0,"type":"quantitative","axis":null},"y":{"datum":0.559,"type":"quantitative","axis":null},"text":{"field":"ttl"}}}
]}
]},
{"width":9,"height":124,"data":{"values":[{"z":0}]},"mark":{"type":"point","opacity":0}},
{"width":166,"height":124,"layer":[
{"data":{"name":"spokes"},"transform":[{"flatten":["rr"]},{"calculate":"datum.rr*cos(datum.t*PI/180)","as":"x"},{"calculate":"datum.rr*sin(datum.t*PI/180)","as":"y"}],"mark":{"type":"line","color":"#e2e2e2","strokeWidth":0.6},"encoding":{"x":{"field":"x","type":"quantitative","scale":{"domain":[-0.46855,0.46855]},"axis":null},"y":{"field":"y","type":"quantitative","scale":{"domain":[-0.35,0.35]},"axis":null},"detail":{"field":"t","type":"nominal"},"order":{"field":"rr","type":"quantitative"}}},
{"data":{"name":"rings"},"transform":[{"calculate":"0","as":"x"},{"calculate":"0","as":"y"}],"mark":{"type":"point","shape":"circle","filled":false,"opacity":1,"strokeWidth":0.75},"encoding":{"x":{"field":"x","type":"quantitative","axis":null},"y":{"field":"y","type":"quantitative","axis":null},"size":{"field":"r","type":"quantitative","scale":{"type":"pow","exponent":2,"domain":[0,0.35],"range":[0,15376]},"legend":null},"color":{"field":"k","type":"nominal","scale":{"domain":["g","e"],"range":["#e2e2e2","#1f1f1f"]},"legend":null}}},
{"data":{"name":"cv"},"transform":[{"filter":"datum.p=='D1'&&datum.s=='b'"},{"flatten":["t","r"]},{"calculate":"datum.r*cos(datum.t*PI/180)","as":"x"},{"calculate":"datum.r*sin(datum.t*PI/180)","as":"y"}],"mark":{"type":"line","interpolate":"linear-closed","color":"#0072BD","strokeWidth":0.65,"point":{"filled":true,"size":2,"color":"#0072BD"}},"encoding":{"x":{"field":"x","type":"quantitative","axis":null},"y":{"field":"y","type":"quantitative","axis":null},"order":{"field":"t","type":"quantitative"}}},
{"data":{"name":"cv"},"transform":[{"filter":"datum.p=='D1'&&datum.s=='o'"},{"flatten":["t","r"]},{"calculate":"datum.r*cos(datum.t*PI/180)","as":"x"},{"calculate":"datum.r*sin(datum.t*PI/180)","as":"y"}],"mark":{"type":"line","interpolate":"cardinal-closed","color":"#F28522","strokeWidth":1.8},"encoding":{"x":{"field":"x","type":"quantitative","axis":null},"y":{"field":"y","type":"quantitative","axis":null},"order":{"field":"t","type":"quantitative"}}},
{"data":{"name":"alab"},"transform":[{"filter":"datum.t!=180"},{"calculate":"datum.t==90?0.382:(datum.t==270?0.405:0.39)","as":"rl"},{"calculate":"datum.rl*cos(datum.t*PI/180)","as":"x"},{"calculate":"datum.rl*sin(datum.t*PI/180)","as":"y"}],"mark":{"type":"text","baseline":"middle"},"encoding":{"x":{"field":"x","type":"quantitative","axis":null},"y":{"field":"y","type":"quantitative","axis":null},"text":{"field":"txt"}}},
{"data":{"name":"alab"},"transform":[{"filter":"datum.t==180"},{"calculate":"0.364*cos(datum.t*PI/180)","as":"x"},{"calculate":"0.364*sin(datum.t*PI/180)","as":"y"}],"mark":{"type":"text","align":"right","baseline":"middle"},"encoding":{"x":{"field":"x","type":"quantitative","axis":null},"y":{"field":"y","type":"quantitative","axis":null},"text":{"field":"txt"}}},
{"data":{"name":"rlab"},"transform":[{"calculate":"datum.r*cos(18*PI/180)","as":"x"},{"calculate":"datum.r*sin(18*PI/180)","as":"y"}],"mark":{"type":"text","baseline":"middle","dy":-4},"encoding":{"x":{"field":"x","type":"quantitative","axis":null},"y":{"field":"y","type":"quantitative","axis":null},"text":{"field":"txt"}}},
{"data":{"name":"info"},"transform":[{"filter":"datum.p=='D1'"}],"layer":[
{"mark":{"type":"text","text":"a","align":"right","baseline":"middle","fontSize":10.5,"color":"#000"},"encoding":{"x":{"datum":-0.2557,"type":"quantitative","axis":null},"y":{"datum":0.4573,"type":"quantitative","axis":null}}},
{"mark":{"type":"text","align":"left","baseline":"middle","fontSize":7.5,"dy":3,"color":"#000"},"encoding":{"x":{"datum":-0.254,"type":"quantitative","axis":null},"y":{"datum":0.4573,"type":"quantitative","axis":null},"text":{"field":"sub"}}},
{"mark":{"type":"text","align":"left","baseline":"middle","fontSize":10.5,"color":"#000"},"encoding":{"x":{"datum":-0.2159,"type":"quantitative","axis":null},"y":{"datum":0.4573,"type":"quantitative","axis":null},"text":{"field":"rest"}}},
{"mark":{"type":"text","baseline":"middle","fontSize":12,"fontWeight":"bold","color":"#000"},"encoding":{"x":{"datum":0,"type":"quantitative","axis":null},"y":{"datum":0.559,"type":"quantitative","axis":null},"text":{"field":"ttl"}}},
{"mark":{"type":"text","align":"left","baseline":"middle","fontSize":14,"fontWeight":"bold","color":"#000"},"encoding":{"x":{"datum":-0.4714,"type":"quantitative","axis":null},"y":{"datum":0.4657,"type":"quantitative","axis":null},"text":{"field":"let"}}}
]}
]},
{"width":166,"height":124,"layer":[
{"data":{"name":"spokes"},"transform":[{"flatten":["rr"]},{"calculate":"datum.rr*cos(datum.t*PI/180)","as":"x"},{"calculate":"datum.rr*sin(datum.t*PI/180)","as":"y"}],"mark":{"type":"line","color":"#e2e2e2","strokeWidth":0.6},"encoding":{"x":{"field":"x","type":"quantitative","scale":{"domain":[-0.46855,0.46855]},"axis":null},"y":{"field":"y","type":"quantitative","scale":{"domain":[-0.35,0.35]},"axis":null},"detail":{"field":"t","type":"nominal"},"order":{"field":"rr","type":"quantitative"}}},
{"data":{"name":"rings"},"transform":[{"calculate":"0","as":"x"},{"calculate":"0","as":"y"}],"mark":{"type":"point","shape":"circle","filled":false,"opacity":1,"strokeWidth":0.75},"encoding":{"x":{"field":"x","type":"quantitative","axis":null},"y":{"field":"y","type":"quantitative","axis":null},"size":{"field":"r","type":"quantitative","scale":{"type":"pow","exponent":2,"domain":[0,0.35],"range":[0,15376]},"legend":null},"color":{"field":"k","type":"nominal","scale":{"domain":["g","e"],"range":["#e2e2e2","#1f1f1f"]},"legend":null}}},
{"data":{"name":"cv"},"transform":[{"filter":"datum.p=='D2'&&datum.s=='b'"},{"flatten":["t","r"]},{"calculate":"datum.r*cos(datum.t*PI/180)","as":"x"},{"calculate":"datum.r*sin(datum.t*PI/180)","as":"y"}],"mark":{"type":"line","interpolate":"linear-closed","color":"#0072BD","strokeWidth":0.65,"point":{"filled":true,"size":2,"color":"#0072BD"}},"encoding":{"x":{"field":"x","type":"quantitative","axis":null},"y":{"field":"y","type":"quantitative","axis":null},"order":{"field":"t","type":"quantitative"}}},
{"data":{"name":"cv"},"transform":[{"filter":"datum.p=='D2'&&datum.s=='o'"},{"flatten":["t","r"]},{"calculate":"datum.r*cos(datum.t*PI/180)","as":"x"},{"calculate":"datum.r*sin(datum.t*PI/180)","as":"y"}],"mark":{"type":"line","interpolate":"cardinal-closed","color":"#F28522","strokeWidth":1.8},"encoding":{"x":{"field":"x","type":"quantitative","axis":null},"y":{"field":"y","type":"quantitative","axis":null},"order":{"field":"t","type":"quantitative"}}},
{"data":{"name":"alab"},"transform":[{"filter":"datum.t!=180"},{"calculate":"datum.t==90?0.382:(datum.t==270?0.405:0.39)","as":"rl"},{"calculate":"datum.rl*cos(datum.t*PI/180)","as":"x"},{"calculate":"datum.rl*sin(datum.t*PI/180)","as":"y"}],"mark":{"type":"text","baseline":"middle"},"encoding":{"x":{"field":"x","type":"quantitative","axis":null},"y":{"field":"y","type":"quantitative","axis":null},"text":{"field":"txt"}}},
{"data":{"name":"alab"},"transform":[{"filter":"datum.t==180"},{"calculate":"0.364*cos(datum.t*PI/180)","as":"x"},{"calculate":"0.364*sin(datum.t*PI/180)","as":"y"}],"mark":{"type":"text","align":"right","baseline":"middle"},"encoding":{"x":{"field":"x","type":"quantitative","axis":null},"y":{"field":"y","type":"quantitative","axis":null},"text":{"field":"txt"}}},
{"data":{"name":"rlab"},"transform":[{"calculate":"datum.r*cos(18*PI/180)","as":"x"},{"calculate":"datum.r*sin(18*PI/180)","as":"y"}],"mark":{"type":"text","baseline":"middle","dy":-4},"encoding":{"x":{"field":"x","type":"quantitative","axis":null},"y":{"field":"y","type":"quantitative","axis":null},"text":{"field":"txt"}}},
{"data":{"name":"info"},"transform":[{"filter":"datum.p=='D2'"}],"layer":[
{"mark":{"type":"text","text":"a","align":"right","baseline":"middle","fontSize":10.5,"color":"#000"},"encoding":{"x":{"datum":-0.2557,"type":"quantitative","axis":null},"y":{"datum":0.4573,"type":"quantitative","axis":null}}},
{"mark":{"type":"text","align":"left","baseline":"middle","fontSize":7.5,"dy":3,"color":"#000"},"encoding":{"x":{"datum":-0.254,"type":"quantitative","axis":null},"y":{"datum":0.4573,"type":"quantitative","axis":null},"text":{"field":"sub"}}},
{"mark":{"type":"text","align":"left","baseline":"middle","fontSize":10.5,"color":"#000"},"encoding":{"x":{"datum":-0.2159,"type":"quantitative","axis":null},"y":{"datum":0.4573,"type":"quantitative","axis":null},"text":{"field":"rest"}}},
{"mark":{"type":"text","baseline":"middle","fontSize":12,"fontWeight":"bold","color":"#000"},"encoding":{"x":{"datum":0,"type":"quantitative","axis":null},"y":{"datum":0.559,"type":"quantitative","axis":null},"text":{"field":"ttl"}}}
]}
]},
{"width":166,"height":124,"layer":[
{"data":{"name":"spokes"},"transform":[{"flatten":["rr"]},{"calculate":"datum.rr*cos(datum.t*PI/180)","as":"x"},{"calculate":"datum.rr*sin(datum.t*PI/180)","as":"y"}],"mark":{"type":"line","color":"#e2e2e2","strokeWidth":0.6},"encoding":{"x":{"field":"x","type":"quantitative","scale":{"domain":[-0.46855,0.46855]},"axis":null},"y":{"field":"y","type":"quantitative","scale":{"domain":[-0.35,0.35]},"axis":null},"detail":{"field":"t","type":"nominal"},"order":{"field":"rr","type":"quantitative"}}},
{"data":{"name":"rings"},"transform":[{"calculate":"0","as":"x"},{"calculate":"0","as":"y"}],"mark":{"type":"point","shape":"circle","filled":false,"opacity":1,"strokeWidth":0.75},"encoding":{"x":{"field":"x","type":"quantitative","axis":null},"y":{"field":"y","type":"quantitative","axis":null},"size":{"field":"r","type":"quantitative","scale":{"type":"pow","exponent":2,"domain":[0,0.35],"range":[0,15376]},"legend":null},"color":{"field":"k","type":"nominal","scale":{"domain":["g","e"],"range":["#e2e2e2","#1f1f1f"]},"legend":null}}},
{"data":{"name":"cv"},"transform":[{"filter":"datum.p=='D3'&&datum.s=='b'"},{"flatten":["t","r"]},{"calculate":"datum.r*cos(datum.t*PI/180)","as":"x"},{"calculate":"datum.r*sin(datum.t*PI/180)","as":"y"}],"mark":{"type":"line","interpolate":"linear-closed","color":"#0072BD","strokeWidth":0.65,"point":{"filled":true,"size":2,"color":"#0072BD"}},"encoding":{"x":{"field":"x","type":"quantitative","axis":null},"y":{"field":"y","type":"quantitative","axis":null},"order":{"field":"t","type":"quantitative"}}},
{"data":{"name":"cv"},"transform":[{"filter":"datum.p=='D3'&&datum.s=='o'"},{"flatten":["t","r"]},{"calculate":"datum.r*cos(datum.t*PI/180)","as":"x"},{"calculate":"datum.r*sin(datum.t*PI/180)","as":"y"}],"mark":{"type":"line","interpolate":"cardinal-closed","color":"#F28522","strokeWidth":1.8},"encoding":{"x":{"field":"x","type":"quantitative","axis":null},"y":{"field":"y","type":"quantitative","axis":null},"order":{"field":"t","type":"quantitative"}}},
{"data":{"name":"alab"},"transform":[{"filter":"datum.t!=180"},{"calculate":"datum.t==90?0.382:(datum.t==270?0.405:0.39)","as":"rl"},{"calculate":"datum.rl*cos(datum.t*PI/180)","as":"x"},{"calculate":"datum.rl*sin(datum.t*PI/180)","as":"y"}],"mark":{"type":"text","baseline":"middle"},"encoding":{"x":{"field":"x","type":"quantitative","axis":null},"y":{"field":"y","type":"quantitative","axis":null},"text":{"field":"txt"}}},
{"data":{"name":"alab"},"transform":[{"filter":"datum.t==180"},{"calculate":"0.364*cos(datum.t*PI/180)","as":"x"},{"calculate":"0.364*sin(datum.t*PI/180)","as":"y"}],"mark":{"type":"text","align":"right","baseline":"middle"},"encoding":{"x":{"field":"x","type":"quantitative","axis":null},"y":{"field":"y","type":"quantitative","axis":null},"text":{"field":"txt"}}},
{"data":{"name":"rlab"},"transform":[{"calculate":"datum.r*cos(18*PI/180)","as":"x"},{"calculate":"datum.r*sin(18*PI/180)","as":"y"}],"mark":{"type":"text","baseline":"middle","dy":-4},"encoding":{"x":{"field":"x","type":"quantitative","axis":null},"y":{"field":"y","type":"quantitative","axis":null},"text":{"field":"txt"}}},
{"data":{"name":"info"},"transform":[{"filter":"datum.p=='D3'"}],"layer":[
{"mark":{"type":"text","text":"a","align":"right","baseline":"middle","fontSize":10.5,"color":"#000"},"encoding":{"x":{"datum":-0.2557,"type":"quantitative","axis":null},"y":{"datum":0.4573,"type":"quantitative","axis":null}}},
{"mark":{"type":"text","align":"left","baseline":"middle","fontSize":7.5,"dy":3,"color":"#000"},"encoding":{"x":{"datum":-0.254,"type":"quantitative","axis":null},"y":{"datum":0.4573,"type":"quantitative","axis":null},"text":{"field":"sub"}}},
{"mark":{"type":"text","align":"left","baseline":"middle","fontSize":10.5,"color":"#000"},"encoding":{"x":{"datum":-0.2159,"type":"quantitative","axis":null},"y":{"datum":0.4573,"type":"quantitative","axis":null},"text":{"field":"rest"}}},
{"mark":{"type":"text","baseline":"middle","fontSize":12,"fontWeight":"bold","color":"#000"},"encoding":{"x":{"datum":0,"type":"quantitative","axis":null},"y":{"datum":0.559,"type":"quantitative","axis":null},"text":{"field":"ttl"}}},
{"mark":{"type":"text","align":"right","baseline":"top","font":"Liberation Serif","fontSize":17,"color":"#000"},"encoding":{"x":{"datum":0.475,"type":"quantitative","axis":null},"y":{"datum":0.8948,"type":"quantitative","axis":null},"text":{"field":"pg"}}}
]}
]},
{"width":166,"height":124,"layer":[
{"data":{"name":"spokes"},"transform":[{"flatten":["rr"]},{"calculate":"datum.rr*cos(datum.t*PI/180)","as":"x"},{"calculate":"datum.rr*sin(datum.t*PI/180)","as":"y"}],"mark":{"type":"line","color":"#e2e2e2","strokeWidth":0.6},"encoding":{"x":{"field":"x","type":"quantitative","scale":{"domain":[-0.46855,0.46855]},"axis":null},"y":{"field":"y","type":"quantitative","scale":{"domain":[-0.35,0.35]},"axis":null},"detail":{"field":"t","type":"nominal"},"order":{"field":"rr","type":"quantitative"}}},
{"data":{"name":"rings"},"transform":[{"calculate":"0","as":"x"},{"calculate":"0","as":"y"}],"mark":{"type":"point","shape":"circle","filled":false,"opacity":1,"strokeWidth":0.75},"encoding":{"x":{"field":"x","type":"quantitative","axis":null},"y":{"field":"y","type":"quantitative","axis":null},"size":{"field":"r","type":"quantitative","scale":{"type":"pow","exponent":2,"domain":[0,0.35],"range":[0,15376]},"legend":null},"color":{"field":"k","type":"nominal","scale":{"domain":["g","e"],"range":["#e2e2e2","#1f1f1f"]},"legend":null}}},
{"data":{"name":"cv"},"transform":[{"filter":"datum.p=='B1'&&datum.s=='b'"},{"flatten":["t","r"]},{"calculate":"datum.r*cos(datum.t*PI/180)","as":"x"},{"calculate":"datum.r*sin(datum.t*PI/180)","as":"y"}],"mark":{"type":"line","interpolate":"linear-closed","color":"#0072BD","strokeWidth":0.65,"point":{"filled":true,"size":2,"color":"#0072BD"}},"encoding":{"x":{"field":"x","type":"quantitative","axis":null},"y":{"field":"y","type":"quantitative","axis":null},"order":{"field":"t","type":"quantitative"}}},
{"data":{"name":"cv"},"transform":[{"filter":"datum.p=='B1'&&datum.s=='o'"},{"flatten":["t","r"]},{"calculate":"datum.r*cos(datum.t*PI/180)","as":"x"},{"calculate":"datum.r*sin(datum.t*PI/180)","as":"y"}],"mark":{"type":"line","interpolate":"cardinal-closed","color":"#F28522","strokeWidth":1.8},"encoding":{"x":{"field":"x","type":"quantitative","axis":null},"y":{"field":"y","type":"quantitative","axis":null},"order":{"field":"t","type":"quantitative"}}},
{"data":{"name":"alab"},"transform":[{"filter":"datum.t!=180"},{"calculate":"datum.t==90?0.382:(datum.t==270?0.405:0.39)","as":"rl"},{"calculate":"datum.rl*cos(datum.t*PI/180)","as":"x"},{"calculate":"datum.rl*sin(datum.t*PI/180)","as":"y"}],"mark":{"type":"text","baseline":"middle"},"encoding":{"x":{"field":"x","type":"quantitative","axis":null},"y":{"field":"y","type":"quantitative","axis":null},"text":{"field":"txt"}}},
{"data":{"name":"alab"},"transform":[{"filter":"datum.t==180"},{"calculate":"0.364*cos(datum.t*PI/180)","as":"x"},{"calculate":"0.364*sin(datum.t*PI/180)","as":"y"}],"mark":{"type":"text","align":"right","baseline":"middle"},"encoding":{"x":{"field":"x","type":"quantitative","axis":null},"y":{"field":"y","type":"quantitative","axis":null},"text":{"field":"txt"}}},
{"data":{"name":"rlab"},"transform":[{"calculate":"datum.r*cos(18*PI/180)","as":"x"},{"calculate":"datum.r*sin(18*PI/180)","as":"y"}],"mark":{"type":"text","baseline":"middle","dy":-4},"encoding":{"x":{"field":"x","type":"quantitative","axis":null},"y":{"field":"y","type":"quantitative","axis":null},"text":{"field":"txt"}}},
{"data":{"name":"info"},"transform":[{"filter":"datum.p=='B1'"}],"layer":[
{"mark":{"type":"text","text":"a","align":"right","baseline":"middle","fontSize":10.5,"color":"#000"},"encoding":{"x":{"datum":-0.2557,"type":"quantitative","axis":null},"y":{"datum":0.4573,"type":"quantitative","axis":null}}},
{"mark":{"type":"text","align":"left","baseline":"middle","fontSize":7.5,"dy":3,"color":"#000"},"encoding":{"x":{"datum":-0.254,"type":"quantitative","axis":null},"y":{"datum":0.4573,"type":"quantitative","axis":null},"text":{"field":"sub"}}},
{"mark":{"type":"text","align":"left","baseline":"middle","fontSize":10.5,"color":"#000"},"encoding":{"x":{"datum":-0.2159,"type":"quantitative","axis":null},"y":{"datum":0.4573,"type":"quantitative","axis":null},"text":{"field":"rest"}}},
{"mark":{"type":"text","align":"left","baseline":"middle","fontSize":14,"fontWeight":"bold","color":"#000"},"encoding":{"x":{"datum":-0.525,"type":"quantitative","axis":null},"y":{"datum":0.4657,"type":"quantitative","axis":null},"text":{"field":"let"}}}
]}
]},
{"width":166,"height":124,"layer":[
{"data":{"name":"spokes"},"transform":[{"flatten":["rr"]},{"calculate":"datum.rr*cos(datum.t*PI/180)","as":"x"},{"calculate":"datum.rr*sin(datum.t*PI/180)","as":"y"}],"mark":{"type":"line","color":"#e2e2e2","strokeWidth":0.6},"encoding":{"x":{"field":"x","type":"quantitative","scale":{"domain":[-0.46855,0.46855]},"axis":null},"y":{"field":"y","type":"quantitative","scale":{"domain":[-0.35,0.35]},"axis":null},"detail":{"field":"t","type":"nominal"},"order":{"field":"rr","type":"quantitative"}}},
{"data":{"name":"rings"},"transform":[{"calculate":"0","as":"x"},{"calculate":"0","as":"y"}],"mark":{"type":"point","shape":"circle","filled":false,"opacity":1,"strokeWidth":0.75},"encoding":{"x":{"field":"x","type":"quantitative","axis":null},"y":{"field":"y","type":"quantitative","axis":null},"size":{"field":"r","type":"quantitative","scale":{"type":"pow","exponent":2,"domain":[0,0.35],"range":[0,15376]},"legend":null},"color":{"field":"k","type":"nominal","scale":{"domain":["g","e"],"range":["#e2e2e2","#1f1f1f"]},"legend":null}}},
{"data":{"name":"cv"},"transform":[{"filter":"datum.p=='B2'&&datum.s=='b'"},{"flatten":["t","r"]},{"calculate":"datum.r*cos(datum.t*PI/180)","as":"x"},{"calculate":"datum.r*sin(datum.t*PI/180)","as":"y"}],"mark":{"type":"line","interpolate":"linear-closed","color":"#0072BD","strokeWidth":0.65,"point":{"filled":true,"size":2,"color":"#0072BD"}},"encoding":{"x":{"field":"x","type":"quantitative","axis":null},"y":{"field":"y","type":"quantitative","axis":null},"order":{"field":"t","type":"quantitative"}}},
{"data":{"name":"cv"},"transform":[{"filter":"datum.p=='B2'&&datum.s=='o'"},{"flatten":["t","r"]},{"calculate":"datum.r*cos(datum.t*PI/180)","as":"x"},{"calculate":"datum.r*sin(datum.t*PI/180)","as":"y"}],"mark":{"type":"line","interpolate":"cardinal-closed","color":"#F28522","strokeWidth":1.8},"encoding":{"x":{"field":"x","type":"quantitative","axis":null},"y":{"field":"y","type":"quantitative","axis":null},"order":{"field":"t","type":"quantitative"}}},
{"data":{"name":"alab"},"transform":[{"filter":"datum.t!=180"},{"calculate":"datum.t==90?0.382:(datum.t==270?0.405:0.39)","as":"rl"},{"calculate":"datum.rl*cos(datum.t*PI/180)","as":"x"},{"calculate":"datum.rl*sin(datum.t*PI/180)","as":"y"}],"mark":{"type":"text","baseline":"middle"},"encoding":{"x":{"field":"x","type":"quantitative","axis":null},"y":{"field":"y","type":"quantitative","axis":null},"text":{"field":"txt"}}},
{"data":{"name":"alab"},"transform":[{"filter":"datum.t==180"},{"calculate":"0.364*cos(datum.t*PI/180)","as":"x"},{"calculate":"0.364*sin(datum.t*PI/180)","as":"y"}],"mark":{"type":"text","align":"right","baseline":"middle"},"encoding":{"x":{"field":"x","type":"quantitative","axis":null},"y":{"field":"y","type":"quantitative","axis":null},"text":{"field":"txt"}}},
{"data":{"name":"rlab"},"transform":[{"calculate":"datum.r*cos(18*PI/180)","as":"x"},{"calculate":"datum.r*sin(18*PI/180)","as":"y"}],"mark":{"type":"text","baseline":"middle","dy":-4},"encoding":{"x":{"field":"x","type":"quantitative","axis":null},"y":{"field":"y","type":"quantitative","axis":null},"text":{"field":"txt"}}},
{"data":{"name":"info"},"transform":[{"filter":"datum.p=='B2'"}],"layer":[
{"mark":{"type":"text","text":"a","align":"right","baseline":"middle","fontSize":10.5,"color":"#000"},"encoding":{"x":{"datum":-0.2557,"type":"quantitative","axis":null},"y":{"datum":0.4573,"type":"quantitative","axis":null}}},
{"mark":{"type":"text","align":"left","baseline":"middle","fontSize":7.5,"dy":3,"color":"#000"},"encoding":{"x":{"datum":-0.254,"type":"quantitative","axis":null},"y":{"datum":0.4573,"type":"quantitative","axis":null},"text":{"field":"sub"}}},
{"mark":{"type":"text","align":"left","baseline":"middle","fontSize":10.5,"color":"#000"},"encoding":{"x":{"datum":-0.2159,"type":"quantitative","axis":null},"y":{"datum":0.4573,"type":"quantitative","axis":null},"text":{"field":"rest"}}}
]}
]},
{"width":166,"height":124,"layer":[
{"data":{"name":"spokes"},"transform":[{"flatten":["rr"]},{"calculate":"datum.rr*cos(datum.t*PI/180)","as":"x"},{"calculate":"datum.rr*sin(datum.t*PI/180)","as":"y"}],"mark":{"type":"line","color":"#e2e2e2","strokeWidth":0.6},"encoding":{"x":{"field":"x","type":"quantitative","scale":{"domain":[-0.46855,0.46855]},"axis":null},"y":{"field":"y","type":"quantitative","scale":{"domain":[-0.35,0.35]},"axis":null},"detail":{"field":"t","type":"nominal"},"order":{"field":"rr","type":"quantitative"}}},
{"data":{"name":"rings"},"transform":[{"calculate":"0","as":"x"},{"calculate":"0","as":"y"}],"mark":{"type":"point","shape":"circle","filled":false,"opacity":1,"strokeWidth":0.75},"encoding":{"x":{"field":"x","type":"quantitative","axis":null},"y":{"field":"y","type":"quantitative","axis":null},"size":{"field":"r","type":"quantitative","scale":{"type":"pow","exponent":2,"domain":[0,0.35],"range":[0,15376]},"legend":null},"color":{"field":"k","type":"nominal","scale":{"domain":["g","e"],"range":["#e2e2e2","#1f1f1f"]},"legend":null}}},
{"data":{"name":"cv"},"transform":[{"filter":"datum.p=='B3'&&datum.s=='b'"},{"flatten":["t","r"]},{"calculate":"datum.r*cos(datum.t*PI/180)","as":"x"},{"calculate":"datum.r*sin(datum.t*PI/180)","as":"y"}],"mark":{"type":"line","interpolate":"linear-closed","color":"#0072BD","strokeWidth":0.65,"point":{"filled":true,"size":2,"color":"#0072BD"}},"encoding":{"x":{"field":"x","type":"quantitative","axis":null},"y":{"field":"y","type":"quantitative","axis":null},"order":{"field":"t","type":"quantitative"}}},
{"data":{"name":"cv"},"transform":[{"filter":"datum.p=='B3'&&datum.s=='o'"},{"flatten":["t","r"]},{"calculate":"datum.r*cos(datum.t*PI/180)","as":"x"},{"calculate":"datum.r*sin(datum.t*PI/180)","as":"y"}],"mark":{"type":"line","interpolate":"cardinal-closed","color":"#F28522","strokeWidth":1.8},"encoding":{"x":{"field":"x","type":"quantitative","axis":null},"y":{"field":"y","type":"quantitative","axis":null},"order":{"field":"t","type":"quantitative"}}},
{"data":{"name":"alab"},"transform":[{"filter":"datum.t!=180"},{"calculate":"datum.t==90?0.382:(datum.t==270?0.405:0.39)","as":"rl"},{"calculate":"datum.rl*cos(datum.t*PI/180)","as":"x"},{"calculate":"datum.rl*sin(datum.t*PI/180)","as":"y"}],"mark":{"type":"text","baseline":"middle"},"encoding":{"x":{"field":"x","type":"quantitative","axis":null},"y":{"field":"y","type":"quantitative","axis":null},"text":{"field":"txt"}}},
{"data":{"name":"alab"},"transform":[{"filter":"datum.t==180"},{"calculate":"0.364*cos(datum.t*PI/180)","as":"x"},{"calculate":"0.364*sin(datum.t*PI/180)","as":"y"}],"mark":{"type":"text","align":"right","baseline":"middle"},"encoding":{"x":{"field":"x","type":"quantitative","axis":null},"y":{"field":"y","type":"quantitative","axis":null},"text":{"field":"txt"}}},
{"data":{"name":"rlab"},"transform":[{"calculate":"datum.r*cos(18*PI/180)","as":"x"},{"calculate":"datum.r*sin(18*PI/180)","as":"y"}],"mark":{"type":"text","baseline":"middle","dy":-4},"encoding":{"x":{"field":"x","type":"quantitative","axis":null},"y":{"field":"y","type":"quantitative","axis":null},"text":{"field":"txt"}}},
{"data":{"name":"info"},"transform":[{"filter":"datum.p=='B3'"}],"layer":[
{"mark":{"type":"text","text":"a","align":"right","baseline":"middle","fontSize":10.5,"color":"#000"},"encoding":{"x":{"datum":-0.2557,"type":"quantitative","axis":null},"y":{"datum":0.4573,"type":"quantitative","axis":null}}},
{"mark":{"type":"text","align":"left","baseline":"middle","fontSize":7.5,"dy":3,"color":"#000"},"encoding":{"x":{"datum":-0.254,"type":"quantitative","axis":null},"y":{"datum":0.4573,"type":"quantitative","axis":null},"text":{"field":"sub"}}},
{"mark":{"type":"text","align":"left","baseline":"middle","fontSize":10.5,"color":"#000"},"encoding":{"x":{"datum":-0.2159,"type":"quantitative","axis":null},"y":{"datum":0.4573,"type":"quantitative","axis":null},"text":{"field":"rest"}}}
]}
]},
{"width":9,"height":124,"data":{"values":[{"z":0}]},"mark":{"type":"point","opacity":0}},
{"width":166,"height":124,"layer":[
{"data":{"name":"spokes"},"transform":[{"flatten":["rr"]},{"calculate":"datum.rr*cos(datum.t*PI/180)","as":"x"},{"calculate":"datum.rr*sin(datum.t*PI/180)","as":"y"}],"mark":{"type":"line","color":"#e2e2e2","strokeWidth":0.6},"encoding":{"x":{"field":"x","type":"quantitative","scale":{"domain":[-0.46855,0.46855]},"axis":null},"y":{"field":"y","type":"quantitative","scale":{"domain":[-0.35,0.35]},"axis":null},"detail":{"field":"t","type":"nominal"},"order":{"field":"rr","type":"quantitative"}}},
{"data":{"name":"rings"},"transform":[{"calculate":"0","as":"x"},{"calculate":"0","as":"y"}],"mark":{"type":"point","shape":"circle","filled":false,"opacity":1,"strokeWidth":0.75},"encoding":{"x":{"field":"x","type":"quantitative","axis":null},"y":{"field":"y","type":"quantitative","axis":null},"size":{"field":"r","type":"quantitative","scale":{"type":"pow","exponent":2,"domain":[0,0.35],"range":[0,15376]},"legend":null},"color":{"field":"k","type":"nominal","scale":{"domain":["g","e"],"range":["#e2e2e2","#1f1f1f"]},"legend":null}}},
{"data":{"name":"cv"},"transform":[{"filter":"datum.p=='E1'&&datum.s=='b'"},{"flatten":["t","r"]},{"calculate":"datum.r*cos(datum.t*PI/180)","as":"x"},{"calculate":"datum.r*sin(datum.t*PI/180)","as":"y"}],"mark":{"type":"line","interpolate":"linear-closed","color":"#0072BD","strokeWidth":0.65,"point":{"filled":true,"size":2,"color":"#0072BD"}},"encoding":{"x":{"field":"x","type":"quantitative","axis":null},"y":{"field":"y","type":"quantitative","axis":null},"order":{"field":"t","type":"quantitative"}}},
{"data":{"name":"cv"},"transform":[{"filter":"datum.p=='E1'&&datum.s=='o'"},{"flatten":["t","r"]},{"calculate":"datum.r*cos(datum.t*PI/180)","as":"x"},{"calculate":"datum.r*sin(datum.t*PI/180)","as":"y"}],"mark":{"type":"line","interpolate":"cardinal-closed","color":"#F28522","strokeWidth":1.8},"encoding":{"x":{"field":"x","type":"quantitative","axis":null},"y":{"field":"y","type":"quantitative","axis":null},"order":{"field":"t","type":"quantitative"}}},
{"data":{"name":"alab"},"transform":[{"filter":"datum.t!=180"},{"calculate":"datum.t==90?0.382:(datum.t==270?0.405:0.39)","as":"rl"},{"calculate":"datum.rl*cos(datum.t*PI/180)","as":"x"},{"calculate":"datum.rl*sin(datum.t*PI/180)","as":"y"}],"mark":{"type":"text","baseline":"middle"},"encoding":{"x":{"field":"x","type":"quantitative","axis":null},"y":{"field":"y","type":"quantitative","axis":null},"text":{"field":"txt"}}},
{"data":{"name":"alab"},"transform":[{"filter":"datum.t==180"},{"calculate":"0.364*cos(datum.t*PI/180)","as":"x"},{"calculate":"0.364*sin(datum.t*PI/180)","as":"y"}],"mark":{"type":"text","align":"right","baseline":"middle"},"encoding":{"x":{"field":"x","type":"quantitative","axis":null},"y":{"field":"y","type":"quantitative","axis":null},"text":{"field":"txt"}}},
{"data":{"name":"rlab"},"transform":[{"calculate":"datum.r*cos(18*PI/180)","as":"x"},{"calculate":"datum.r*sin(18*PI/180)","as":"y"}],"mark":{"type":"text","baseline":"middle","dy":-4},"encoding":{"x":{"field":"x","type":"quantitative","axis":null},"y":{"field":"y","type":"quantitative","axis":null},"text":{"field":"txt"}}},
{"data":{"name":"info"},"transform":[{"filter":"datum.p=='E1'"}],"layer":[
{"mark":{"type":"text","text":"a","align":"right","baseline":"middle","fontSize":10.5,"color":"#000"},"encoding":{"x":{"datum":-0.2557,"type":"quantitative","axis":null},"y":{"datum":0.4573,"type":"quantitative","axis":null}}},
{"mark":{"type":"text","align":"left","baseline":"middle","fontSize":7.5,"dy":3,"color":"#000"},"encoding":{"x":{"datum":-0.254,"type":"quantitative","axis":null},"y":{"datum":0.4573,"type":"quantitative","axis":null},"text":{"field":"sub"}}},
{"mark":{"type":"text","align":"left","baseline":"middle","fontSize":10.5,"color":"#000"},"encoding":{"x":{"datum":-0.2159,"type":"quantitative","axis":null},"y":{"datum":0.4573,"type":"quantitative","axis":null},"text":{"field":"rest"}}},
{"mark":{"type":"text","align":"left","baseline":"middle","fontSize":14,"fontWeight":"bold","color":"#000"},"encoding":{"x":{"datum":-0.4714,"type":"quantitative","axis":null},"y":{"datum":0.4657,"type":"quantitative","axis":null},"text":{"field":"let"}}}
]}
]},
{"width":166,"height":124,"layer":[
{"data":{"name":"spokes"},"transform":[{"flatten":["rr"]},{"calculate":"datum.rr*cos(datum.t*PI/180)","as":"x"},{"calculate":"datum.rr*sin(datum.t*PI/180)","as":"y"}],"mark":{"type":"line","color":"#e2e2e2","strokeWidth":0.6},"encoding":{"x":{"field":"x","type":"quantitative","scale":{"domain":[-0.46855,0.46855]},"axis":null},"y":{"field":"y","type":"quantitative","scale":{"domain":[-0.35,0.35]},"axis":null},"detail":{"field":"t","type":"nominal"},"order":{"field":"rr","type":"quantitative"}}},
{"data":{"name":"rings"},"transform":[{"calculate":"0","as":"x"},{"calculate":"0","as":"y"}],"mark":{"type":"point","shape":"circle","filled":false,"opacity":1,"strokeWidth":0.75},"encoding":{"x":{"field":"x","type":"quantitative","axis":null},"y":{"field":"y","type":"quantitative","axis":null},"size":{"field":"r","type":"quantitative","scale":{"type":"pow","exponent":2,"domain":[0,0.35],"range":[0,15376]},"legend":null},"color":{"field":"k","type":"nominal","scale":{"domain":["g","e"],"range":["#e2e2e2","#1f1f1f"]},"legend":null}}},
{"data":{"name":"cv"},"transform":[{"filter":"datum.p=='E2'&&datum.s=='b'"},{"flatten":["t","r"]},{"calculate":"datum.r*cos(datum.t*PI/180)","as":"x"},{"calculate":"datum.r*sin(datum.t*PI/180)","as":"y"}],"mark":{"type":"line","interpolate":"linear-closed","color":"#0072BD","strokeWidth":0.65,"point":{"filled":true,"size":2,"color":"#0072BD"}},"encoding":{"x":{"field":"x","type":"quantitative","axis":null},"y":{"field":"y","type":"quantitative","axis":null},"order":{"field":"t","type":"quantitative"}}},
{"data":{"name":"cv"},"transform":[{"filter":"datum.p=='E2'&&datum.s=='o'"},{"flatten":["t","r"]},{"calculate":"datum.r*cos(datum.t*PI/180)","as":"x"},{"calculate":"datum.r*sin(datum.t*PI/180)","as":"y"}],"mark":{"type":"line","interpolate":"cardinal-closed","color":"#F28522","strokeWidth":1.8},"encoding":{"x":{"field":"x","type":"quantitative","axis":null},"y":{"field":"y","type":"quantitative","axis":null},"order":{"field":"t","type":"quantitative"}}},
{"data":{"name":"alab"},"transform":[{"filter":"datum.t!=180"},{"calculate":"datum.t==90?0.382:(datum.t==270?0.405:0.39)","as":"rl"},{"calculate":"datum.rl*cos(datum.t*PI/180)","as":"x"},{"calculate":"datum.rl*sin(datum.t*PI/180)","as":"y"}],"mark":{"type":"text","baseline":"middle"},"encoding":{"x":{"field":"x","type":"quantitative","axis":null},"y":{"field":"y","type":"quantitative","axis":null},"text":{"field":"txt"}}},
{"data":{"name":"alab"},"transform":[{"filter":"datum.t==180"},{"calculate":"0.364*cos(datum.t*PI/180)","as":"x"},{"calculate":"0.364*sin(datum.t*PI/180)","as":"y"}],"mark":{"type":"text","align":"right","baseline":"middle"},"encoding":{"x":{"field":"x","type":"quantitative","axis":null},"y":{"field":"y","type":"quantitative","axis":null},"text":{"field":"txt"}}},
{"data":{"name":"rlab"},"transform":[{"calculate":"datum.r*cos(18*PI/180)","as":"x"},{"calculate":"datum.r*sin(18*PI/180)","as":"y"}],"mark":{"type":"text","baseline":"middle","dy":-4},"encoding":{"x":{"field":"x","type":"quantitative","axis":null},"y":{"field":"y","type":"quantitative","axis":null},"text":{"field":"txt"}}},
{"data":{"name":"info"},"transform":[{"filter":"datum.p=='E2'"}],"layer":[
{"mark":{"type":"text","text":"a","align":"right","baseline":"middle","fontSize":10.5,"color":"#000"},"encoding":{"x":{"datum":-0.2557,"type":"quantitative","axis":null},"y":{"datum":0.4573,"type":"quantitative","axis":null}}},
{"mark":{"type":"text","align":"left","baseline":"middle","fontSize":7.5,"dy":3,"color":"#000"},"encoding":{"x":{"datum":-0.254,"type":"quantitative","axis":null},"y":{"datum":0.4573,"type":"quantitative","axis":null},"text":{"field":"sub"}}},
{"mark":{"type":"text","align":"left","baseline":"middle","fontSize":10.5,"color":"#000"},"encoding":{"x":{"datum":-0.2159,"type":"quantitative","axis":null},"y":{"datum":0.4573,"type":"quantitative","axis":null},"text":{"field":"rest"}}}
]}
]},
{"width":166,"height":124,"layer":[
{"data":{"name":"spokes"},"transform":[{"flatten":["rr"]},{"calculate":"datum.rr*cos(datum.t*PI/180)","as":"x"},{"calculate":"datum.rr*sin(datum.t*PI/180)","as":"y"}],"mark":{"type":"line","color":"#e2e2e2","strokeWidth":0.6},"encoding":{"x":{"field":"x","type":"quantitative","scale":{"domain":[-0.46855,0.46855]},"axis":null},"y":{"field":"y","type":"quantitative","scale":{"domain":[-0.35,0.35]},"axis":null},"detail":{"field":"t","type":"nominal"},"order":{"field":"rr","type":"quantitative"}}},
{"data":{"name":"rings"},"transform":[{"calculate":"0","as":"x"},{"calculate":"0","as":"y"}],"mark":{"type":"point","shape":"circle","filled":false,"opacity":1,"strokeWidth":0.75},"encoding":{"x":{"field":"x","type":"quantitative","axis":null},"y":{"field":"y","type":"quantitative","axis":null},"size":{"field":"r","type":"quantitative","scale":{"type":"pow","exponent":2,"domain":[0,0.35],"range":[0,15376]},"legend":null},"color":{"field":"k","type":"nominal","scale":{"domain":["g","e"],"range":["#e2e2e2","#1f1f1f"]},"legend":null}}},
{"data":{"name":"cv"},"transform":[{"filter":"datum.p=='E3'&&datum.s=='b'"},{"flatten":["t","r"]},{"calculate":"datum.r*cos(datum.t*PI/180)","as":"x"},{"calculate":"datum.r*sin(datum.t*PI/180)","as":"y"}],"mark":{"type":"line","interpolate":"linear-closed","color":"#0072BD","strokeWidth":0.65,"point":{"filled":true,"size":2,"color":"#0072BD"}},"encoding":{"x":{"field":"x","type":"quantitative","axis":null},"y":{"field":"y","type":"quantitative","axis":null},"order":{"field":"t","type":"quantitative"}}},
{"data":{"name":"cv"},"transform":[{"filter":"datum.p=='E3'&&datum.s=='o'"},{"flatten":["t","r"]},{"calculate":"datum.r*cos(datum.t*PI/180)","as":"x"},{"calculate":"datum.r*sin(datum.t*PI/180)","as":"y"}],"mark":{"type":"line","interpolate":"cardinal-closed","color":"#F28522","strokeWidth":1.8},"encoding":{"x":{"field":"x","type":"quantitative","axis":null},"y":{"field":"y","type":"quantitative","axis":null},"order":{"field":"t","type":"quantitative"}}},
{"data":{"name":"alab"},"transform":[{"filter":"datum.t!=180"},{"calculate":"datum.t==90?0.382:(datum.t==270?0.405:0.39)","as":"rl"},{"calculate":"datum.rl*cos(datum.t*PI/180)","as":"x"},{"calculate":"datum.rl*sin(datum.t*PI/180)","as":"y"}],"mark":{"type":"text","baseline":"middle"},"encoding":{"x":{"field":"x","type":"quantitative","axis":null},"y":{"field":"y","type":"quantitative","axis":null},"text":{"field":"txt"}}},
{"data":{"name":"alab"},"transform":[{"filter":"datum.t==180"},{"calculate":"0.364*cos(datum.t*PI/180)","as":"x"},{"calculate":"0.364*sin(datum.t*PI/180)","as":"y"}],"mark":{"type":"text","align":"right","baseline":"middle"},"encoding":{"x":{"field":"x","type":"quantitative","axis":null},"y":{"field":"y","type":"quantitative","axis":null},"text":{"field":"txt"}}},
{"data":{"name":"rlab"},"transform":[{"calculate":"datum.r*cos(18*PI/180)","as":"x"},{"calculate":"datum.r*sin(18*PI/180)","as":"y"}],"mark":{"type":"text","baseline":"middle","dy":-4},"encoding":{"x":{"field":"x","type":"quantitative","axis":null},"y":{"field":"y","type":"quantitative","axis":null},"text":{"field":"txt"}}},
{"data":{"name":"info"},"transform":[{"filter":"datum.p=='E3'"}],"layer":[
{"mark":{"type":"text","text":"a","align":"right","baseline":"middle","fontSize":10.5,"color":"#000"},"encoding":{"x":{"datum":-0.2557,"type":"quantitative","axis":null},"y":{"datum":0.4573,"type":"quantitative","axis":null}}},
{"mark":{"type":"text","align":"left","baseline":"middle","fontSize":7.5,"dy":3,"color":"#000"},"encoding":{"x":{"datum":-0.254,"type":"quantitative","axis":null},"y":{"datum":0.4573,"type":"quantitative","axis":null},"text":{"field":"sub"}}},
{"mark":{"type":"text","align":"left","baseline":"middle","fontSize":10.5,"color":"#000"},"encoding":{"x":{"datum":-0.2159,"type":"quantitative","axis":null},"y":{"datum":0.4573,"type":"quantitative","axis":null},"text":{"field":"rest"}}}
]}
]},
{"width":166,"height":124,"layer":[
{"data":{"name":"spokes"},"transform":[{"flatten":["rr"]},{"calculate":"datum.rr*cos(datum.t*PI/180)","as":"x"},{"calculate":"datum.rr*sin(datum.t*PI/180)","as":"y"}],"mark":{"type":"line","color":"#e2e2e2","strokeWidth":0.6},"encoding":{"x":{"field":"x","type":"quantitative","scale":{"domain":[-0.46855,0.46855]},"axis":null},"y":{"field":"y","type":"quantitative","scale":{"domain":[-0.35,0.35]},"axis":null},"detail":{"field":"t","type":"nominal"},"order":{"field":"rr","type":"quantitative"}}},
{"data":{"name":"rings"},"transform":[{"calculate":"0","as":"x"},{"calculate":"0","as":"y"}],"mark":{"type":"point","shape":"circle","filled":false,"opacity":1,"strokeWidth":0.75},"encoding":{"x":{"field":"x","type":"quantitative","axis":null},"y":{"field":"y","type":"quantitative","axis":null},"size":{"field":"r","type":"quantitative","scale":{"type":"pow","exponent":2,"domain":[0,0.35],"range":[0,15376]},"legend":null},"color":{"field":"k","type":"nominal","scale":{"domain":["g","e"],"range":["#e2e2e2","#1f1f1f"]},"legend":null}}},
{"data":{"name":"cv"},"transform":[{"filter":"datum.p=='C1'&&datum.s=='b'"},{"flatten":["t","r"]},{"calculate":"datum.r*cos(datum.t*PI/180)","as":"x"},{"calculate":"datum.r*sin(datum.t*PI/180)","as":"y"}],"mark":{"type":"line","interpolate":"linear-closed","color":"#0072BD","strokeWidth":0.65,"point":{"filled":true,"size":2,"color":"#0072BD"}},"encoding":{"x":{"field":"x","type":"quantitative","axis":null},"y":{"field":"y","type":"quantitative","axis":null},"order":{"field":"t","type":"quantitative"}}},
{"data":{"name":"cv"},"transform":[{"filter":"datum.p=='C1'&&datum.s=='o'"},{"flatten":["t","r"]},{"calculate":"datum.r*cos(datum.t*PI/180)","as":"x"},{"calculate":"datum.r*sin(datum.t*PI/180)","as":"y"}],"mark":{"type":"line","interpolate":"cardinal-closed","color":"#F28522","strokeWidth":1.8},"encoding":{"x":{"field":"x","type":"quantitative","axis":null},"y":{"field":"y","type":"quantitative","axis":null},"order":{"field":"t","type":"quantitative"}}},
{"data":{"name":"alab"},"transform":[{"filter":"datum.t!=180"},{"calculate":"datum.t==90?0.382:(datum.t==270?0.405:0.39)","as":"rl"},{"calculate":"datum.rl*cos(datum.t*PI/180)","as":"x"},{"calculate":"datum.rl*sin(datum.t*PI/180)","as":"y"}],"mark":{"type":"text","baseline":"middle"},"encoding":{"x":{"field":"x","type":"quantitative","axis":null},"y":{"field":"y","type":"quantitative","axis":null},"text":{"field":"txt"}}},
{"data":{"name":"alab"},"transform":[{"filter":"datum.t==180"},{"calculate":"0.364*cos(datum.t*PI/180)","as":"x"},{"calculate":"0.364*sin(datum.t*PI/180)","as":"y"}],"mark":{"type":"text","align":"right","baseline":"middle"},"encoding":{"x":{"field":"x","type":"quantitative","axis":null},"y":{"field":"y","type":"quantitative","axis":null},"text":{"field":"txt"}}},
{"data":{"name":"rlab"},"transform":[{"calculate":"datum.r*cos(18*PI/180)","as":"x"},{"calculate":"datum.r*sin(18*PI/180)","as":"y"}],"mark":{"type":"text","baseline":"middle","dy":-4},"encoding":{"x":{"field":"x","type":"quantitative","axis":null},"y":{"field":"y","type":"quantitative","axis":null},"text":{"field":"txt"}}},
{"data":{"name":"info"},"transform":[{"filter":"datum.p=='C1'"}],"layer":[
{"mark":{"type":"text","text":"a","align":"right","baseline":"middle","fontSize":10.5,"color":"#000"},"encoding":{"x":{"datum":-0.2557,"type":"quantitative","axis":null},"y":{"datum":0.4573,"type":"quantitative","axis":null}}},
{"mark":{"type":"text","align":"left","baseline":"middle","fontSize":7.5,"dy":3,"color":"#000"},"encoding":{"x":{"datum":-0.254,"type":"quantitative","axis":null},"y":{"datum":0.4573,"type":"quantitative","axis":null},"text":{"field":"sub"}}},
{"mark":{"type":"text","align":"left","baseline":"middle","fontSize":10.5,"color":"#000"},"encoding":{"x":{"datum":-0.2159,"type":"quantitative","axis":null},"y":{"datum":0.4573,"type":"quantitative","axis":null},"text":{"field":"rest"}}},
{"mark":{"type":"text","align":"left","baseline":"middle","fontSize":14,"fontWeight":"bold","color":"#000"},"encoding":{"x":{"datum":-0.525,"type":"quantitative","axis":null},"y":{"datum":0.4657,"type":"quantitative","axis":null},"text":{"field":"let"}}}
]}
]},
{"width":166,"height":124,"layer":[
{"data":{"name":"spokes"},"transform":[{"flatten":["rr"]},{"calculate":"datum.rr*cos(datum.t*PI/180)","as":"x"},{"calculate":"datum.rr*sin(datum.t*PI/180)","as":"y"}],"mark":{"type":"line","color":"#e2e2e2","strokeWidth":0.6},"encoding":{"x":{"field":"x","type":"quantitative","scale":{"domain":[-0.46855,0.46855]},"axis":null},"y":{"field":"y","type":"quantitative","scale":{"domain":[-0.35,0.35]},"axis":null},"detail":{"field":"t","type":"nominal"},"order":{"field":"rr","type":"quantitative"}}},
{"data":{"name":"rings"},"transform":[{"calculate":"0","as":"x"},{"calculate":"0","as":"y"}],"mark":{"type":"point","shape":"circle","filled":false,"opacity":1,"strokeWidth":0.75},"encoding":{"x":{"field":"x","type":"quantitative","axis":null},"y":{"field":"y","type":"quantitative","axis":null},"size":{"field":"r","type":"quantitative","scale":{"type":"pow","exponent":2,"domain":[0,0.35],"range":[0,15376]},"legend":null},"color":{"field":"k","type":"nominal","scale":{"domain":["g","e"],"range":["#e2e2e2","#1f1f1f"]},"legend":null}}},
{"data":{"name":"cv"},"transform":[{"filter":"datum.p=='C2'&&datum.s=='b'"},{"flatten":["t","r"]},{"calculate":"datum.r*cos(datum.t*PI/180)","as":"x"},{"calculate":"datum.r*sin(datum.t*PI/180)","as":"y"}],"mark":{"type":"line","interpolate":"linear-closed","color":"#0072BD","strokeWidth":0.65,"point":{"filled":true,"size":2,"color":"#0072BD"}},"encoding":{"x":{"field":"x","type":"quantitative","axis":null},"y":{"field":"y","type":"quantitative","axis":null},"order":{"field":"t","type":"quantitative"}}},
{"data":{"name":"cv"},"transform":[{"filter":"datum.p=='C2'&&datum.s=='o'"},{"flatten":["t","r"]},{"calculate":"datum.r*cos(datum.t*PI/180)","as":"x"},{"calculate":"datum.r*sin(datum.t*PI/180)","as":"y"}],"mark":{"type":"line","interpolate":"cardinal-closed","color":"#F28522","strokeWidth":1.8},"encoding":{"x":{"field":"x","type":"quantitative","axis":null},"y":{"field":"y","type":"quantitative","axis":null},"order":{"field":"t","type":"quantitative"}}},
{"data":{"name":"alab"},"transform":[{"filter":"datum.t!=180"},{"calculate":"datum.t==90?0.382:(datum.t==270?0.405:0.39)","as":"rl"},{"calculate":"datum.rl*cos(datum.t*PI/180)","as":"x"},{"calculate":"datum.rl*sin(datum.t*PI/180)","as":"y"}],"mark":{"type":"text","baseline":"middle"},"encoding":{"x":{"field":"x","type":"quantitative","axis":null},"y":{"field":"y","type":"quantitative","axis":null},"text":{"field":"txt"}}},
{"data":{"name":"alab"},"transform":[{"filter":"datum.t==180"},{"calculate":"0.364*cos(datum.t*PI/180)","as":"x"},{"calculate":"0.364*sin(datum.t*PI/180)","as":"y"}],"mark":{"type":"text","align":"right","baseline":"middle"},"encoding":{"x":{"field":"x","type":"quantitative","axis":null},"y":{"field":"y","type":"quantitative","axis":null},"text":{"field":"txt"}}},
{"data":{"name":"rlab"},"transform":[{"calculate":"datum.r*cos(18*PI/180)","as":"x"},{"calculate":"datum.r*sin(18*PI/180)","as":"y"}],"mark":{"type":"text","baseline":"middle","dy":-4},"encoding":{"x":{"field":"x","type":"quantitative","axis":null},"y":{"field":"y","type":"quantitative","axis":null},"text":{"field":"txt"}}},
{"data":{"name":"info"},"transform":[{"filter":"datum.p=='C2'"}],"layer":[
{"mark":{"type":"text","text":"a","align":"right","baseline":"middle","fontSize":10.5,"color":"#000"},"encoding":{"x":{"datum":-0.2557,"type":"quantitative","axis":null},"y":{"datum":0.4573,"type":"quantitative","axis":null}}},
{"mark":{"type":"text","align":"left","baseline":"middle","fontSize":7.5,"dy":3,"color":"#000"},"encoding":{"x":{"datum":-0.254,"type":"quantitative","axis":null},"y":{"datum":0.4573,"type":"quantitative","axis":null},"text":{"field":"sub"}}},
{"mark":{"type":"text","align":"left","baseline":"middle","fontSize":10.5,"color":"#000"},"encoding":{"x":{"datum":-0.2159,"type":"quantitative","axis":null},"y":{"datum":0.4573,"type":"quantitative","axis":null},"text":{"field":"rest"}}}
]}
]},
{"width":166,"height":124,"layer":[
{"data":{"name":"spokes"},"transform":[{"flatten":["rr"]},{"calculate":"datum.rr*cos(datum.t*PI/180)","as":"x"},{"calculate":"datum.rr*sin(datum.t*PI/180)","as":"y"}],"mark":{"type":"line","color":"#e2e2e2","strokeWidth":0.6},"encoding":{"x":{"field":"x","type":"quantitative","scale":{"domain":[-0.46855,0.46855]},"axis":null},"y":{"field":"y","type":"quantitative","scale":{"domain":[-0.35,0.35]},"axis":null},"detail":{"field":"t","type":"nominal"},"order":{"field":"rr","type":"quantitative"}}},
{"data":{"name":"rings"},"transform":[{"calculate":"0","as":"x"},{"calculate":"0","as":"y"}],"mark":{"type":"point","shape":"circle","filled":false,"opacity":1,"strokeWidth":0.75},"encoding":{"x":{"field":"x","type":"quantitative","axis":null},"y":{"field":"y","type":"quantitative","axis":null},"size":{"field":"r","type":"quantitative","scale":{"type":"pow","exponent":2,"domain":[0,0.35],"range":[0,15376]},"legend":null},"color":{"field":"k","type":"nominal","scale":{"domain":["g","e"],"range":["#e2e2e2","#1f1f1f"]},"legend":null}}},
{"data":{"name":"cv"},"transform":[{"filter":"datum.p=='C3'&&datum.s=='b'"},{"flatten":["t","r"]},{"calculate":"datum.r*cos(datum.t*PI/180)","as":"x"},{"calculate":"datum.r*sin(datum.t*PI/180)","as":"y"}],"mark":{"type":"line","interpolate":"linear-closed","color":"#0072BD","strokeWidth":0.65,"point":{"filled":true,"size":2,"color":"#0072BD"}},"encoding":{"x":{"field":"x","type":"quantitative","axis":null},"y":{"field":"y","type":"quantitative","axis":null},"order":{"field":"t","type":"quantitative"}}},
{"data":{"name":"cv"},"transform":[{"filter":"datum.p=='C3'&&datum.s=='o'"},{"flatten":["t","r"]},{"calculate":"datum.r*cos(datum.t*PI/180)","as":"x"},{"calculate":"datum.r*sin(datum.t*PI/180)","as":"y"}],"mark":{"type":"line","interpolate":"cardinal-closed","color":"#F28522","strokeWidth":1.8},"encoding":{"x":{"field":"x","type":"quantitative","axis":null},"y":{"field":"y","type":"quantitative","axis":null},"order":{"field":"t","type":"quantitative"}}},
{"data":{"name":"alab"},"transform":[{"filter":"datum.t!=180"},{"calculate":"datum.t==90?0.382:(datum.t==270?0.405:0.39)","as":"rl"},{"calculate":"datum.rl*cos(datum.t*PI/180)","as":"x"},{"calculate":"datum.rl*sin(datum.t*PI/180)","as":"y"}],"mark":{"type":"text","baseline":"middle"},"encoding":{"x":{"field":"x","type":"quantitative","axis":null},"y":{"field":"y","type":"quantitative","axis":null},"text":{"field":"txt"}}},
{"data":{"name":"alab"},"transform":[{"filter":"datum.t==180"},{"calculate":"0.364*cos(datum.t*PI/180)","as":"x"},{"calculate":"0.364*sin(datum.t*PI/180)","as":"y"}],"mark":{"type":"text","align":"right","baseline":"middle"},"encoding":{"x":{"field":"x","type":"quantitative","axis":null},"y":{"field":"y","type":"quantitative","axis":null},"text":{"field":"txt"}}},
{"data":{"name":"rlab"},"transform":[{"calculate":"datum.r*cos(18*PI/180)","as":"x"},{"calculate":"datum.r*sin(18*PI/180)","as":"y"}],"mark":{"type":"text","baseline":"middle","dy":-4},"encoding":{"x":{"field":"x","type":"quantitative","axis":null},"y":{"field":"y","type":"quantitative","axis":null},"text":{"field":"txt"}}},
{"data":{"name":"info"},"transform":[{"filter":"datum.p=='C3'"}],"layer":[
{"mark":{"type":"text","text":"a","align":"right","baseline":"middle","fontSize":10.5,"color":"#000"},"encoding":{"x":{"datum":-0.2557,"type":"quantitative","axis":null},"y":{"datum":0.4573,"type":"quantitative","axis":null}}},
{"mark":{"type":"text","align":"left","baseline":"middle","fontSize":7.5,"dy":3,"color":"#000"},"encoding":{"x":{"datum":-0.254,"type":"quantitative","axis":null},"y":{"datum":0.4573,"type":"quantitative","axis":null},"text":{"field":"sub"}}},
{"mark":{"type":"text","align":"left","baseline":"middle","fontSize":10.5,"color":"#000"},"encoding":{"x":{"datum":-0.2159,"type":"quantitative","axis":null},"y":{"datum":0.4573,"type":"quantitative","axis":null},"text":{"field":"rest"}}}
]}
]},
{"width":9,"height":124,"data":{"values":[{"z":0}]},"mark":{"type":"point","opacity":0}},
{"width":166,"height":124,"layer":[
{"data":{"name":"spokes"},"transform":[{"flatten":["rr"]},{"calculate":"datum.rr*cos(datum.t*PI/180)","as":"x"},{"calculate":"datum.rr*sin(datum.t*PI/180)","as":"y"}],"mark":{"type":"line","color":"#e2e2e2","strokeWidth":0.6},"encoding":{"x":{"field":"x","type":"quantitative","scale":{"domain":[-0.46855,0.46855]},"axis":null},"y":{"field":"y","type":"quantitative","scale":{"domain":[-0.35,0.35]},"axis":null},"detail":{"field":"t","type":"nominal"},"order":{"field":"rr","type":"quantitative"}}},
{"data":{"name":"rings"},"transform":[{"calculate":"0","as":"x"},{"calculate":"0","as":"y"}],"mark":{"type":"point","shape":"circle","filled":false,"opacity":1,"strokeWidth":0.75},"encoding":{"x":{"field":"x","type":"quantitative","axis":null},"y":{"field":"y","type":"quantitative","axis":null},"size":{"field":"r","type":"quantitative","scale":{"type":"pow","exponent":2,"domain":[0,0.35],"range":[0,15376]},"legend":null},"color":{"field":"k","type":"nominal","scale":{"domain":["g","e"],"range":["#e2e2e2","#1f1f1f"]},"legend":null}}},
{"data":{"name":"cv"},"transform":[{"filter":"datum.p=='F1'&&datum.s=='b'"},{"flatten":["t","r"]},{"calculate":"datum.r*cos(datum.t*PI/180)","as":"x"},{"calculate":"datum.r*sin(datum.t*PI/180)","as":"y"}],"mark":{"type":"line","interpolate":"linear-closed","color":"#0072BD","strokeWidth":0.65,"point":{"filled":true,"size":2,"color":"#0072BD"}},"encoding":{"x":{"field":"x","type":"quantitative","axis":null},"y":{"field":"y","type":"quantitative","axis":null},"order":{"field":"t","type":"quantitative"}}},
{"data":{"name":"cv"},"transform":[{"filter":"datum.p=='F1'&&datum.s=='o'"},{"flatten":["t","r"]},{"calculate":"datum.r*cos(datum.t*PI/180)","as":"x"},{"calculate":"datum.r*sin(datum.t*PI/180)","as":"y"}],"mark":{"type":"line","interpolate":"cardinal-closed","color":"#F28522","strokeWidth":1.8},"encoding":{"x":{"field":"x","type":"quantitative","axis":null},"y":{"field":"y","type":"quantitative","axis":null},"order":{"field":"t","type":"quantitative"}}},
{"data":{"name":"alab"},"transform":[{"filter":"datum.t!=180"},{"calculate":"datum.t==90?0.382:(datum.t==270?0.405:0.39)","as":"rl"},{"calculate":"datum.rl*cos(datum.t*PI/180)","as":"x"},{"calculate":"datum.rl*sin(datum.t*PI/180)","as":"y"}],"mark":{"type":"text","baseline":"middle"},"encoding":{"x":{"field":"x","type":"quantitative","axis":null},"y":{"field":"y","type":"quantitative","axis":null},"text":{"field":"txt"}}},
{"data":{"name":"alab"},"transform":[{"filter":"datum.t==180"},{"calculate":"0.364*cos(datum.t*PI/180)","as":"x"},{"calculate":"0.364*sin(datum.t*PI/180)","as":"y"}],"mark":{"type":"text","align":"right","baseline":"middle"},"encoding":{"x":{"field":"x","type":"quantitative","axis":null},"y":{"field":"y","type":"quantitative","axis":null},"text":{"field":"txt"}}},
{"data":{"name":"rlab"},"transform":[{"calculate":"datum.r*cos(18*PI/180)","as":"x"},{"calculate":"datum.r*sin(18*PI/180)","as":"y"}],"mark":{"type":"text","baseline":"middle","dy":-4},"encoding":{"x":{"field":"x","type":"quantitative","axis":null},"y":{"field":"y","type":"quantitative","axis":null},"text":{"field":"txt"}}},
{"data":{"name":"info"},"transform":[{"filter":"datum.p=='F1'"}],"layer":[
{"mark":{"type":"text","text":"a","align":"right","baseline":"middle","fontSize":10.5,"color":"#000"},"encoding":{"x":{"datum":-0.2557,"type":"quantitative","axis":null},"y":{"datum":0.4573,"type":"quantitative","axis":null}}},
{"mark":{"type":"text","align":"left","baseline":"middle","fontSize":7.5,"dy":3,"color":"#000"},"encoding":{"x":{"datum":-0.254,"type":"quantitative","axis":null},"y":{"datum":0.4573,"type":"quantitative","axis":null},"text":{"field":"sub"}}},
{"mark":{"type":"text","align":"left","baseline":"middle","fontSize":10.5,"color":"#000"},"encoding":{"x":{"datum":-0.2159,"type":"quantitative","axis":null},"y":{"datum":0.4573,"type":"quantitative","axis":null},"text":{"field":"rest"}}},
{"mark":{"type":"text","align":"left","baseline":"middle","fontSize":14,"fontWeight":"bold","color":"#000"},"encoding":{"x":{"datum":-0.4714,"type":"quantitative","axis":null},"y":{"datum":0.4657,"type":"quantitative","axis":null},"text":{"field":"let"}}}
]}
]},
{"width":166,"height":124,"layer":[
{"data":{"name":"spokes"},"transform":[{"flatten":["rr"]},{"calculate":"datum.rr*cos(datum.t*PI/180)","as":"x"},{"calculate":"datum.rr*sin(datum.t*PI/180)","as":"y"}],"mark":{"type":"line","color":"#e2e2e2","strokeWidth":0.6},"encoding":{"x":{"field":"x","type":"quantitative","scale":{"domain":[-0.46855,0.46855]},"axis":null},"y":{"field":"y","type":"quantitative","scale":{"domain":[-0.35,0.35]},"axis":null},"detail":{"field":"t","type":"nominal"},"order":{"field":"rr","type":"quantitative"}}},
{"data":{"name":"rings"},"transform":[{"calculate":"0","as":"x"},{"calculate":"0","as":"y"}],"mark":{"type":"point","shape":"circle","filled":false,"opacity":1,"strokeWidth":0.75},"encoding":{"x":{"field":"x","type":"quantitative","axis":null},"y":{"field":"y","type":"quantitative","axis":null},"size":{"field":"r","type":"quantitative","scale":{"type":"pow","exponent":2,"domain":[0,0.35],"range":[0,15376]},"legend":null},"color":{"field":"k","type":"nominal","scale":{"domain":["g","e"],"range":["#e2e2e2","#1f1f1f"]},"legend":null}}},
{"data":{"name":"cv"},"transform":[{"filter":"datum.p=='F2'&&datum.s=='b'"},{"flatten":["t","r"]},{"calculate":"datum.r*cos(datum.t*PI/180)","as":"x"},{"calculate":"datum.r*sin(datum.t*PI/180)","as":"y"}],"mark":{"type":"line","interpolate":"linear-closed","color":"#0072BD","strokeWidth":0.65,"point":{"filled":true,"size":2,"color":"#0072BD"}},"encoding":{"x":{"field":"x","type":"quantitative","axis":null},"y":{"field":"y","type":"quantitative","axis":null},"order":{"field":"t","type":"quantitative"}}},
{"data":{"name":"cv"},"transform":[{"filter":"datum.p=='F2'&&datum.s=='o'"},{"flatten":["t","r"]},{"calculate":"datum.r*cos(datum.t*PI/180)","as":"x"},{"calculate":"datum.r*sin(datum.t*PI/180)","as":"y"}],"mark":{"type":"line","interpolate":"cardinal-closed","color":"#F28522","strokeWidth":1.8},"encoding":{"x":{"field":"x","type":"quantitative","axis":null},"y":{"field":"y","type":"quantitative","axis":null},"order":{"field":"t","type":"quantitative"}}},
{"data":{"name":"alab"},"transform":[{"filter":"datum.t!=180"},{"calculate":"datum.t==90?0.382:(datum.t==270?0.405:0.39)","as":"rl"},{"calculate":"datum.rl*cos(datum.t*PI/180)","as":"x"},{"calculate":"datum.rl*sin(datum.t*PI/180)","as":"y"}],"mark":{"type":"text","baseline":"middle"},"encoding":{"x":{"field":"x","type":"quantitative","axis":null},"y":{"field":"y","type":"quantitative","axis":null},"text":{"field":"txt"}}},
{"data":{"name":"alab"},"transform":[{"filter":"datum.t==180"},{"calculate":"0.364*cos(datum.t*PI/180)","as":"x"},{"calculate":"0.364*sin(datum.t*PI/180)","as":"y"}],"mark":{"type":"text","align":"right","baseline":"middle"},"encoding":{"x":{"field":"x","type":"quantitative","axis":null},"y":{"field":"y","type":"quantitative","axis":null},"text":{"field":"txt"}}},
{"data":{"name":"rlab"},"transform":[{"calculate":"datum.r*cos(18*PI/180)","as":"x"},{"calculate":"datum.r*sin(18*PI/180)","as":"y"}],"mark":{"type":"text","baseline":"middle","dy":-4},"encoding":{"x":{"field":"x","type":"quantitative","axis":null},"y":{"field":"y","type":"quantitative","axis":null},"text":{"field":"txt"}}},
{"data":{"name":"info"},"transform":[{"filter":"datum.p=='F2'"}],"layer":[
{"mark":{"type":"text","text":"a","align":"right","baseline":"middle","fontSize":10.5,"color":"#000"},"encoding":{"x":{"datum":-0.2557,"type":"quantitative","axis":null},"y":{"datum":0.4573,"type":"quantitative","axis":null}}},
{"mark":{"type":"text","align":"left","baseline":"middle","fontSize":7.5,"dy":3,"color":"#000"},"encoding":{"x":{"datum":-0.254,"type":"quantitative","axis":null},"y":{"datum":0.4573,"type":"quantitative","axis":null},"text":{"field":"sub"}}},
{"mark":{"type":"text","align":"left","baseline":"middle","fontSize":10.5,"color":"#000"},"encoding":{"x":{"datum":-0.2159,"type":"quantitative","axis":null},"y":{"datum":0.4573,"type":"quantitative","axis":null},"text":{"field":"rest"}}}
]}
]},
{"width":166,"height":124,"layer":[
{"data":{"name":"spokes"},"transform":[{"flatten":["rr"]},{"calculate":"datum.rr*cos(datum.t*PI/180)","as":"x"},{"calculate":"datum.rr*sin(datum.t*PI/180)","as":"y"}],"mark":{"type":"line","color":"#e2e2e2","strokeWidth":0.6},"encoding":{"x":{"field":"x","type":"quantitative","scale":{"domain":[-0.46855,0.46855]},"axis":null},"y":{"field":"y","type":"quantitative","scale":{"domain":[-0.35,0.35]},"axis":null},"detail":{"field":"t","type":"nominal"},"order":{"field":"rr","type":"quantitative"}}},
{"data":{"name":"rings"},"transform":[{"calculate":"0","as":"x"},{"calculate":"0","as":"y"}],"mark":{"type":"point","shape":"circle","filled":false,"opacity":1,"strokeWidth":0.75},"encoding":{"x":{"field":"x","type":"quantitative","axis":null},"y":{"field":"y","type":"quantitative","axis":null},"size":{"field":"r","type":"quantitative","scale":{"type":"pow","exponent":2,"domain":[0,0.35],"range":[0,15376]},"legend":null},"color":{"field":"k","type":"nominal","scale":{"domain":["g","e"],"range":["#e2e2e2","#1f1f1f"]},"legend":null}}},
{"data":{"name":"cv"},"transform":[{"filter":"datum.p=='F3'&&datum.s=='b'"},{"flatten":["t","r"]},{"calculate":"datum.r*cos(datum.t*PI/180)","as":"x"},{"calculate":"datum.r*sin(datum.t*PI/180)","as":"y"}],"mark":{"type":"line","interpolate":"linear-closed","color":"#0072BD","strokeWidth":0.65,"point":{"filled":true,"size":2,"color":"#0072BD"}},"encoding":{"x":{"field":"x","type":"quantitative","axis":null},"y":{"field":"y","type":"quantitative","axis":null},"order":{"field":"t","type":"quantitative"}}},
{"data":{"name":"cv"},"transform":[{"filter":"datum.p=='F3'&&datum.s=='o'"},{"flatten":["t","r"]},{"calculate":"datum.r*cos(datum.t*PI/180)","as":"x"},{"calculate":"datum.r*sin(datum.t*PI/180)","as":"y"}],"mark":{"type":"line","interpolate":"cardinal-closed","color":"#F28522","strokeWidth":1.8},"encoding":{"x":{"field":"x","type":"quantitative","axis":null},"y":{"field":"y","type":"quantitative","axis":null},"order":{"field":"t","type":"quantitative"}}},
{"data":{"name":"alab"},"transform":[{"filter":"datum.t!=180"},{"calculate":"datum.t==90?0.382:(datum.t==270?0.405:0.39)","as":"rl"},{"calculate":"datum.rl*cos(datum.t*PI/180)","as":"x"},{"calculate":"datum.rl*sin(datum.t*PI/180)","as":"y"}],"mark":{"type":"text","baseline":"middle"},"encoding":{"x":{"field":"x","type":"quantitative","axis":null},"y":{"field":"y","type":"quantitative","axis":null},"text":{"field":"txt"}}},
{"data":{"name":"alab"},"transform":[{"filter":"datum.t==180"},{"calculate":"0.364*cos(datum.t*PI/180)","as":"x"},{"calculate":"0.364*sin(datum.t*PI/180)","as":"y"}],"mark":{"type":"text","align":"right","baseline":"middle"},"encoding":{"x":{"field":"x","type":"quantitative","axis":null},"y":{"field":"y","type":"quantitative","axis":null},"text":{"field":"txt"}}},
{"data":{"name":"rlab"},"transform":[{"calculate":"datum.r*cos(18*PI/180)","as":"x"},{"calculate":"datum.r*sin(18*PI/180)","as":"y"}],"mark":{"type":"text","baseline":"middle","dy":-4},"encoding":{"x":{"field":"x","type":"quantitative","axis":null},"y":{"field":"y","type":"quantitative","axis":null},"text":{"field":"txt"}}},
{"data":{"name":"info"},"transform":[{"filter":"datum.p=='F3'"}],"layer":[
{"mark":{"type":"text","text":"a","align":"right","baseline":"middle","fontSize":10.5,"color":"#000"},"encoding":{"x":{"datum":-0.2557,"type":"quantitative","axis":null},"y":{"datum":0.4573,"type":"quantitative","axis":null}}},
{"mark":{"type":"text","align":"left","baseline":"middle","fontSize":7.5,"dy":3,"color":"#000"},"encoding":{"x":{"datum":-0.254,"type":"quantitative","axis":null},"y":{"datum":0.4573,"type":"quantitative","axis":null},"text":{"field":"sub"}}},
{"mark":{"type":"text","align":"left","baseline":"middle","fontSize":10.5,"color":"#000"},"encoding":{"x":{"datum":-0.2159,"type":"quantitative","axis":null},"y":{"datum":0.4573,"type":"quantitative","axis":null},"text":{"field":"rest"}}}
]}
]}
]
}
